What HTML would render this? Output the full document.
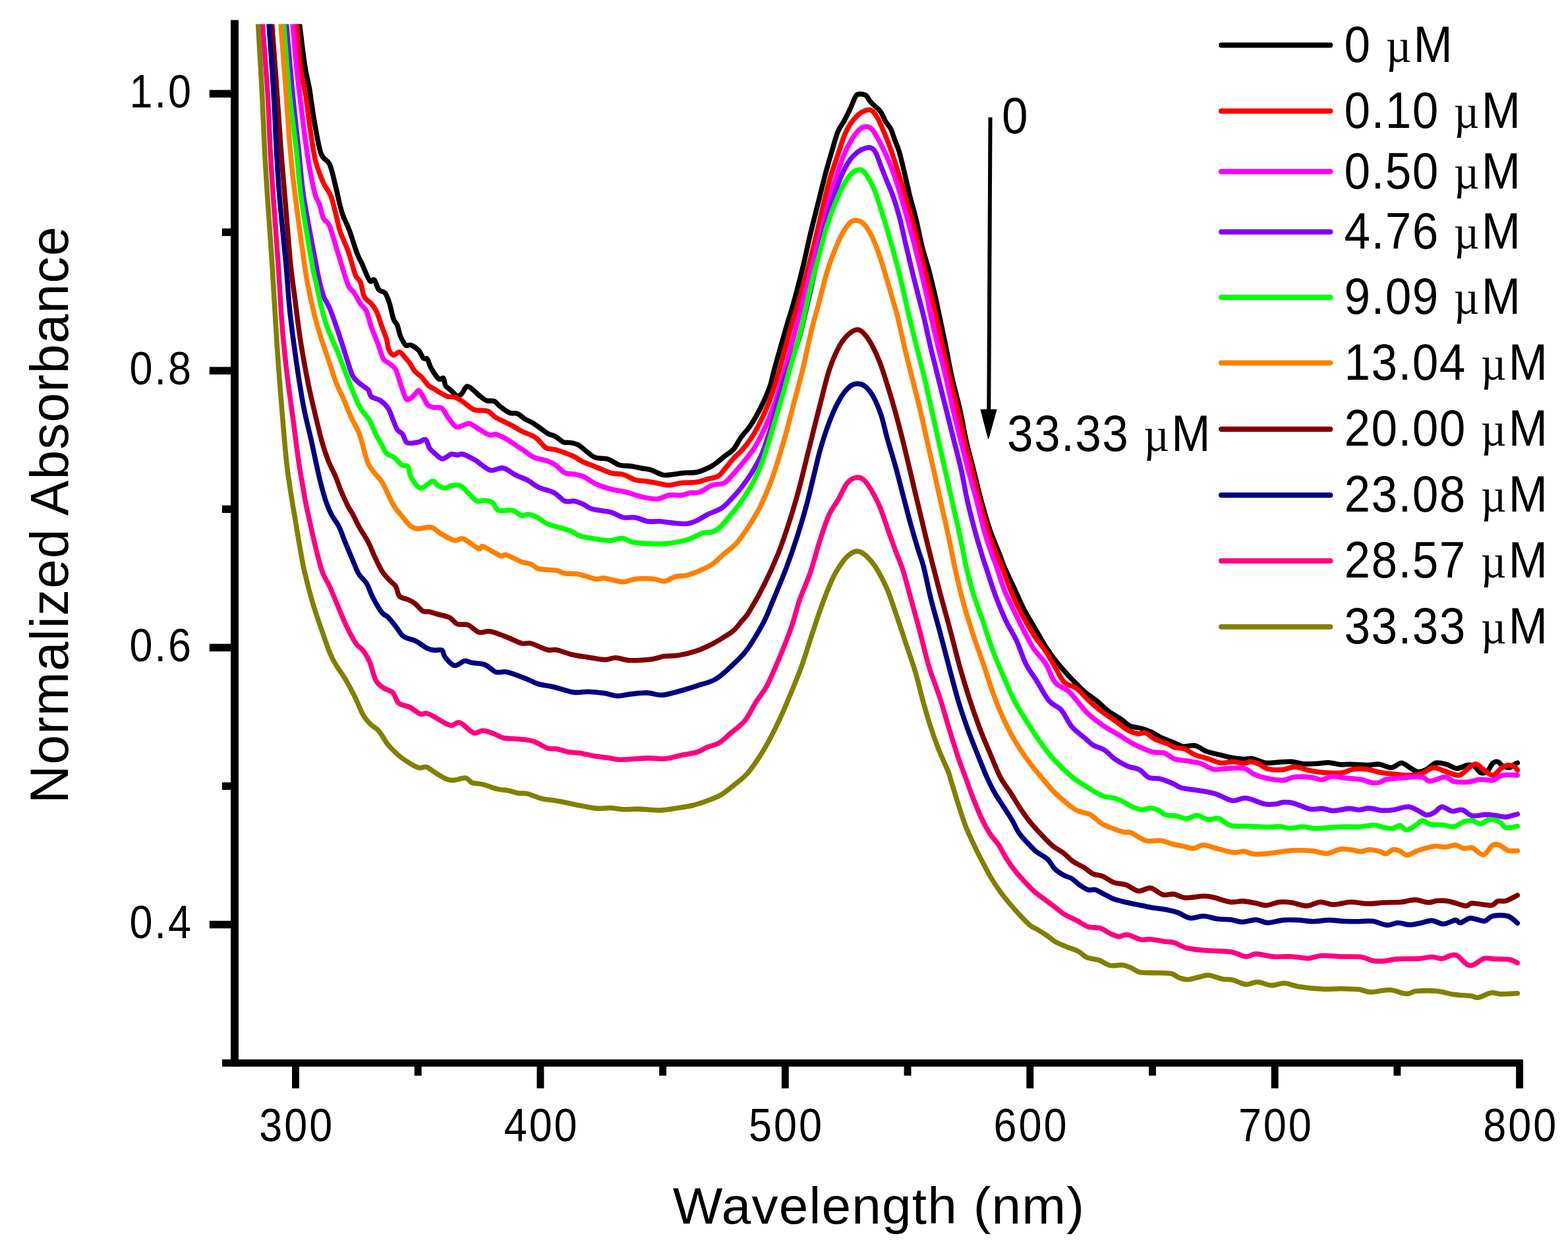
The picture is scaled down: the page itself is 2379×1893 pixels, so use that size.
<!DOCTYPE html>
<html lang="en"><head><meta charset="utf-8"><title>Normalized Absorbance vs Wavelength</title>
<style>html,body{margin:0;padding:0;background:#fff}body{width:2379px;height:1893px;overflow:hidden}svg{display:block}text{font-family:"Liberation Sans",Arial,Helvetica,sans-serif;fill:#000}.mu{font-family:"Liberation Serif","DejaVu Serif",serif}.c{fill:none;stroke-linejoin:round;stroke-linecap:round}</style></head><body>
<svg width="2379" height="1893" viewBox="0 0 2379 1893">
<rect width="2379" height="1893" fill="#fff"/>
<clipPath id="plot"><rect x="361" y="36.5" width="1960" height="1571"/></clipPath>
<g clip-path="url(#plot)">
<path class="c" stroke="#000000" stroke-width="7.60" d="M452.3 20.0C452.7 22.8 452.8 23.7 454.5 37.0C456.2 50.3 460.1 83.7 462.6 100.0C465.1 116.3 467.3 121.4 469.6 135.0C471.9 148.6 473.6 165.2 476.5 181.5C479.4 197.8 483.1 221.6 487.0 232.8C490.9 244.1 496.3 240.8 500.0 249.0C503.7 257.1 505.9 269.6 509.0 281.7C512.1 293.8 515.0 310.1 518.5 321.4C522.0 332.7 526.1 338.8 530.0 349.3C533.9 359.8 538.6 375.9 541.8 384.3C545.0 392.8 546.0 393.1 549.2 400.0C552.4 406.9 557.7 421.5 560.8 425.6C563.9 429.7 565.5 422.2 567.8 424.5C570.1 426.8 572.1 436.3 574.8 439.6C577.5 442.9 581.4 440.8 584.1 444.3C586.8 447.8 589.0 454.0 591.1 460.6C593.2 467.2 595.0 478.5 597.0 483.9C599.0 489.3 601.0 488.9 602.8 493.2C604.5 497.5 605.4 504.6 607.5 509.6C609.6 514.6 612.9 521.2 615.6 523.5C618.3 525.8 620.5 522.1 623.8 523.5C627.1 524.9 632.3 528.4 635.4 531.7C638.5 535.0 640.2 541.3 642.4 543.4C644.5 545.5 646.3 542.0 648.3 544.5C650.2 547.0 651.2 553.5 654.1 558.5C657.0 563.5 662.6 572.3 665.7 574.8C668.8 577.3 671.0 572.0 672.7 573.7C674.5 575.5 674.2 582.2 676.2 585.3C678.2 588.4 681.5 589.8 684.4 592.3C687.3 594.8 691.0 599.7 693.7 600.5C696.4 601.3 698.4 599.3 700.7 597.0C703.0 594.7 705.4 587.9 707.7 586.5C710.0 585.1 711.6 586.7 714.7 588.8C717.8 590.9 722.4 596.2 726.3 599.3C730.2 602.4 734.1 606.0 738.0 607.5C741.9 609.0 746.2 607.1 749.7 608.6C753.2 610.1 755.1 613.9 759.0 616.8C762.9 619.7 768.7 624.4 773.0 626.1C777.3 627.9 780.7 625.8 784.6 627.3C788.5 628.8 792.4 633.1 796.3 635.4C800.2 637.7 804.0 639.0 807.9 641.3C811.8 643.6 815.7 646.7 819.6 649.4C823.5 652.1 827.3 655.5 831.2 657.6C835.1 659.7 839.0 660.1 842.9 662.2C846.8 664.3 850.6 668.8 854.5 670.4C858.4 672.0 862.3 670.8 866.2 671.6C870.1 672.4 874.0 673.0 877.9 675.1C881.8 677.2 885.3 681.2 889.5 684.4C893.7 687.5 897.9 692.0 903.3 694.0C908.7 696.0 915.8 694.4 922.0 696.4C928.2 698.4 934.8 704.0 940.6 705.7C946.4 707.5 951.5 706.1 956.9 706.9C962.3 707.7 968.2 709.3 973.2 710.3C978.2 711.3 981.8 711.0 987.2 712.7C992.7 714.4 1000.5 719.2 1005.9 720.4C1011.3 721.6 1014.5 720.2 1019.9 719.7C1025.3 719.2 1032.3 717.9 1038.5 717.3C1044.7 716.7 1050.6 717.8 1057.2 716.2C1063.8 714.7 1072.7 710.7 1078.1 708.0C1083.5 705.3 1085.9 702.8 1089.8 699.9C1093.7 697.0 1097.5 693.6 1101.4 690.5C1105.3 687.4 1109.2 685.9 1113.1 681.2C1117.0 676.6 1120.9 668.0 1124.8 662.6C1128.7 657.2 1132.5 654.1 1136.4 648.6C1140.3 643.1 1144.2 636.9 1148.1 629.9C1152.0 622.9 1156.2 614.4 1159.7 606.6C1163.2 598.8 1166.5 591.1 1169.0 583.3C1171.5 575.5 1171.1 573.9 1174.9 560.0C1178.7 546.1 1187.1 516.5 1191.9 500.0C1196.7 483.6 1199.2 476.7 1203.5 461.3C1207.8 445.9 1213.2 425.2 1217.5 407.7C1221.8 390.2 1225.3 372.7 1229.2 356.4C1233.1 340.1 1236.9 325.3 1240.8 309.8C1244.7 294.3 1249.0 276.4 1252.5 263.2C1256.0 250.0 1258.7 241.0 1261.8 230.5C1264.9 220.0 1268.0 208.0 1271.1 200.2C1274.2 192.4 1277.4 189.7 1280.5 183.9C1283.6 178.1 1287.1 171.1 1289.8 165.3C1292.5 159.5 1294.9 152.7 1296.8 149.0C1298.7 145.3 1298.7 143.9 1301.4 143.1C1304.1 142.3 1310.0 142.6 1313.1 144.3C1316.2 146.1 1317.8 150.9 1320.1 153.6C1322.4 156.3 1324.4 157.9 1327.1 160.6C1329.8 163.3 1333.7 166.0 1336.4 169.9C1339.1 173.8 1340.9 179.6 1343.4 183.9C1345.9 188.2 1349.3 190.9 1351.6 195.6C1353.9 200.3 1355.3 206.1 1357.4 211.9C1359.5 217.7 1362.1 222.7 1364.4 230.5C1366.7 238.3 1368.7 247.2 1371.4 258.5C1374.1 269.8 1377.6 285.7 1380.7 298.1C1383.8 310.5 1386.9 320.3 1390.0 333.1C1393.1 345.9 1396.2 362.7 1399.3 375.1C1402.4 387.5 1405.6 396.1 1408.7 407.7C1411.8 419.3 1415.2 432.9 1418.0 445.0C1420.8 457.1 1422.6 466.4 1425.5 480.0C1428.4 493.6 1432.0 511.1 1435.2 526.6C1438.4 542.1 1441.0 557.7 1444.5 573.2C1448.0 588.8 1452.7 604.4 1456.2 619.9C1459.7 635.4 1462.0 651.0 1465.5 666.5C1469.0 682.0 1473.3 697.6 1477.2 713.1C1481.1 728.6 1484.5 744.2 1488.8 759.7C1493.1 775.2 1498.1 792.7 1502.8 806.3C1507.5 819.9 1513.3 832.3 1516.8 841.3C1520.3 850.2 1519.9 851.0 1523.8 860.0C1527.7 869.0 1535.0 884.1 1540.1 895.0C1545.1 905.9 1549.0 915.6 1554.1 925.3C1559.1 935.0 1565.0 943.9 1570.4 953.2C1575.8 962.5 1580.9 972.2 1586.7 981.2C1592.5 990.2 1598.8 998.7 1605.4 1006.9C1612.0 1015.1 1619.7 1023.2 1626.3 1030.2C1632.9 1037.2 1638.8 1043.4 1645.0 1048.8C1651.2 1054.2 1657.4 1057.8 1663.6 1062.8C1669.8 1067.8 1676.1 1074.4 1682.3 1079.1C1688.5 1083.8 1695.5 1087.1 1700.9 1090.8C1706.3 1094.5 1709.9 1099.0 1714.9 1101.3C1720.0 1103.6 1725.8 1103.2 1731.2 1104.8C1736.7 1106.3 1742.5 1108.3 1747.6 1110.6C1752.6 1112.9 1756.1 1116.2 1761.5 1118.7C1766.9 1121.2 1774.3 1123.6 1780.0 1125.9C1785.7 1128.2 1789.9 1131.5 1795.4 1132.3C1801.0 1133.1 1807.3 1129.7 1813.3 1131.0C1819.3 1132.3 1824.9 1137.7 1831.3 1140.0C1837.7 1142.3 1845.4 1143.5 1851.8 1145.1C1858.2 1146.7 1863.7 1148.4 1869.7 1149.5C1875.7 1150.6 1882.6 1151.3 1887.7 1151.5C1892.8 1151.7 1895.0 1149.8 1900.5 1150.8C1906.0 1151.8 1914.6 1156.3 1921.0 1157.2C1927.4 1158.1 1932.6 1156.5 1939.0 1156.2C1945.4 1155.9 1953.1 1155.0 1959.5 1155.4C1965.9 1155.8 1971.0 1158.2 1977.4 1158.7C1983.8 1159.2 1991.5 1158.5 1997.9 1158.2C2004.3 1157.9 2009.9 1156.5 2015.9 1156.7C2021.9 1157.0 2028.2 1159.3 2033.8 1159.7C2039.3 1160.1 2042.3 1159.1 2049.2 1159.2C2056.0 1159.3 2067.6 1160.5 2074.9 1160.5C2082.2 1160.5 2086.8 1158.5 2092.8 1159.2C2098.8 1159.9 2105.2 1164.7 2110.8 1164.4C2116.4 1164.1 2121.5 1157.2 2126.2 1157.2C2130.9 1157.2 2134.7 1162.1 2139.0 1164.4C2143.3 1166.7 2147.5 1170.4 2151.8 1170.8C2156.1 1171.2 2160.1 1169.2 2164.6 1166.9C2169.1 1164.6 2173.6 1158.4 2178.7 1157.2C2183.8 1156.0 2190.1 1158.3 2195.4 1159.7C2200.8 1161.1 2205.7 1165.5 2210.8 1165.6C2215.9 1165.7 2221.9 1161.1 2226.2 1160.5C2230.5 1159.9 2233.0 1159.9 2236.4 1161.8C2239.8 1163.7 2243.3 1170.8 2246.7 1172.1C2250.1 1173.4 2253.9 1171.9 2256.9 1169.5C2259.9 1167.1 2262.0 1160.2 2264.6 1157.9C2267.2 1155.6 2269.7 1154.8 2272.3 1155.4C2274.9 1156.1 2277.0 1160.3 2280.0 1161.8C2283.0 1163.3 2287.3 1164.8 2290.3 1164.4C2293.3 1164.0 2295.9 1160.4 2297.9 1159.2C2299.9 1158.0 2301.6 1157.5 2302.3 1157.2"/>
<path class="c" stroke="#ff0000" stroke-width="7.60" d="M448.9 20.0C449.1 22.8 449.2 23.7 450.3 37.0C451.4 50.3 453.3 81.7 455.6 100.0C457.9 118.3 461.3 129.1 464.0 146.6C466.7 164.1 469.4 188.5 471.9 204.8C474.4 221.1 475.8 232.5 478.9 244.5C482.0 256.5 486.6 268.1 490.5 277.0C494.4 285.9 498.7 288.7 502.2 298.0C505.7 307.3 509.2 324.1 511.5 333.0C513.8 341.9 513.5 343.9 516.2 351.7C518.9 359.5 524.8 371.6 527.8 379.7C530.8 387.8 532.0 393.5 534.0 400.0C536.0 406.5 537.8 413.9 539.9 418.6C542.0 423.3 544.8 422.8 546.9 428.0C549.0 433.2 550.0 444.7 552.7 450.1C555.4 455.5 560.1 456.9 563.2 460.6C566.3 464.3 568.6 466.5 571.3 472.3C574.0 478.1 577.0 488.6 579.5 495.6C582.0 502.6 584.8 508.4 586.5 514.2C588.2 520.0 588.2 526.4 590.0 530.5C591.8 534.6 594.3 538.1 597.0 538.7C599.7 539.3 603.4 533.4 606.3 534.0C609.2 534.6 612.0 539.5 614.5 542.2C617.0 544.9 618.9 546.8 621.4 550.3C623.9 553.8 626.5 559.5 629.6 563.2C632.7 566.9 636.8 569.0 640.1 572.5C643.4 576.0 646.3 581.2 649.4 584.1C652.5 587.0 655.2 587.9 658.7 590.0C662.2 592.1 666.9 595.1 670.4 597.0C673.9 598.9 676.2 600.6 679.7 601.6C683.2 602.6 687.5 601.4 691.4 602.8C695.3 604.2 698.7 606.9 703.0 609.8C707.3 612.7 713.1 618.2 717.0 620.3C720.9 622.4 722.4 622.0 726.3 622.6C730.2 623.2 736.0 622.0 740.3 623.8C744.6 625.5 747.7 630.4 752.0 633.1C756.3 635.8 761.7 638.0 766.0 640.1C770.3 642.2 773.3 643.6 777.6 645.9C781.9 648.2 786.2 651.4 791.6 654.1C797.0 656.8 805.6 659.5 810.3 662.2C815.0 664.9 816.5 667.5 819.6 670.4C822.7 673.3 825.0 677.8 828.9 679.7C832.8 681.7 838.2 680.9 842.9 682.1C847.6 683.3 852.2 685.0 856.9 686.7C861.6 688.4 866.2 690.2 870.9 692.5C875.5 694.8 879.4 698.1 884.8 700.7C890.2 703.3 896.3 705.2 903.3 708.0C910.3 710.8 919.6 715.3 926.6 717.3C933.6 719.2 939.1 718.0 945.3 719.7C951.5 721.5 957.7 726.0 963.9 727.8C970.1 729.5 976.4 729.2 982.6 730.2C988.8 731.2 995.8 732.7 1001.2 733.7C1006.6 734.7 1009.8 736.2 1015.2 736.0C1020.6 735.8 1026.8 733.3 1033.8 732.5C1040.8 731.7 1050.6 732.3 1057.2 731.3C1063.8 730.3 1068.1 728.2 1073.5 726.7C1078.9 725.2 1085.1 724.9 1089.8 722.0C1094.5 719.1 1097.5 713.7 1101.4 709.2C1105.3 704.7 1108.8 699.9 1113.1 695.2C1117.4 690.5 1122.4 686.6 1127.1 681.2C1131.8 675.8 1136.8 669.2 1141.1 662.6C1145.4 656.0 1148.8 649.4 1152.7 641.6C1156.6 633.8 1160.9 624.5 1164.4 616.0C1167.9 607.5 1170.6 599.6 1173.7 590.3C1176.8 581.0 1178.8 575.0 1183.0 560.0C1187.2 545.0 1194.3 516.5 1198.9 500.0C1203.5 483.6 1205.8 477.5 1210.5 461.3C1215.2 445.1 1222.2 420.5 1226.9 403.0C1231.6 385.5 1235.0 370.8 1238.5 356.4C1242.0 342.0 1244.3 331.2 1247.8 316.8C1251.3 302.4 1255.6 283.8 1259.5 270.2C1263.4 256.6 1267.6 245.7 1271.1 235.2C1274.6 224.7 1277.4 215.0 1280.5 207.2C1283.6 199.4 1286.3 194.0 1289.8 188.6C1293.3 183.2 1297.5 178.1 1301.4 174.6C1305.3 171.1 1309.6 168.8 1313.1 167.6C1316.6 166.4 1319.3 165.6 1322.4 167.6C1325.5 169.6 1328.6 173.9 1331.7 179.3C1334.8 184.7 1338.0 192.8 1341.1 200.2C1344.2 207.6 1347.3 214.9 1350.4 223.5C1353.5 232.1 1356.6 241.8 1359.7 251.5C1362.8 261.2 1365.9 271.3 1369.0 281.8C1372.1 292.3 1375.3 303.6 1378.4 314.5C1381.5 325.4 1384.6 335.5 1387.7 347.1C1390.8 358.8 1393.9 372.0 1397.0 384.4C1400.1 396.8 1403.2 409.3 1406.3 421.7C1409.4 434.1 1413.3 449.3 1415.7 459.0C1418.1 468.7 1418.0 468.7 1420.5 480.0C1423.0 491.3 1427.1 511.1 1430.5 526.6C1433.9 542.1 1437.3 557.7 1441.0 573.2C1444.7 588.8 1449.0 604.4 1452.7 619.9C1456.4 635.4 1459.5 651.0 1463.2 666.5C1466.9 682.0 1470.9 697.6 1474.8 713.1C1478.7 728.6 1482.4 744.2 1486.5 759.7C1490.6 775.2 1495.0 792.7 1499.3 806.3C1503.6 819.9 1508.6 832.3 1512.1 841.3C1515.6 850.2 1516.8 851.0 1520.3 860.0C1523.8 869.0 1528.2 883.4 1533.1 895.0C1537.9 906.6 1543.6 918.6 1549.4 929.9C1555.2 941.2 1561.9 952.9 1568.1 962.6C1574.3 972.3 1581.3 980.1 1586.7 988.2C1592.1 996.4 1596.0 1003.7 1600.7 1011.5C1605.4 1019.3 1609.3 1029.4 1614.7 1034.8C1620.1 1040.2 1627.5 1039.8 1633.3 1044.1C1639.1 1048.4 1643.9 1055.0 1649.7 1060.5C1655.5 1066.0 1661.3 1071.4 1668.3 1076.8C1675.3 1082.2 1684.6 1088.0 1691.6 1093.1C1698.6 1098.1 1704.5 1103.8 1710.3 1107.1C1716.1 1110.4 1721.9 1112.1 1726.6 1112.9C1731.2 1113.7 1733.9 1110.3 1738.2 1111.7C1742.5 1113.1 1746.8 1118.4 1752.2 1121.1C1757.7 1123.8 1765.9 1126.0 1770.9 1128.1C1776.0 1130.2 1778.0 1132.6 1782.5 1133.9C1787.0 1135.2 1792.8 1134.3 1797.9 1136.2C1803.0 1138.1 1807.7 1142.8 1813.3 1145.1C1818.9 1147.4 1824.9 1148.3 1831.3 1150.3C1837.7 1152.3 1845.4 1156.3 1851.8 1157.2C1858.2 1158.1 1863.7 1155.3 1869.7 1155.4C1875.7 1155.5 1883.0 1157.9 1887.7 1157.9C1892.4 1157.9 1894.1 1155.2 1897.9 1155.4C1901.8 1155.6 1906.5 1157.4 1910.8 1159.2C1915.1 1161.0 1917.6 1165.0 1923.6 1166.4C1929.6 1167.8 1939.9 1168.0 1946.7 1167.4C1953.5 1166.9 1958.2 1163.0 1964.6 1163.1C1971.0 1163.2 1978.3 1166.8 1985.1 1168.2C1991.9 1169.6 1997.0 1170.8 2005.6 1171.5C2014.1 1172.2 2028.7 1172.9 2036.4 1172.1C2044.1 1171.3 2045.4 1167.8 2051.8 1166.9C2058.2 1166.0 2068.1 1166.1 2074.9 1166.9C2081.7 1167.7 2085.5 1170.2 2092.8 1171.5C2100.1 1172.8 2110.8 1173.9 2118.5 1174.6C2126.2 1175.3 2132.6 1176.1 2139.0 1175.9C2145.4 1175.7 2150.9 1175.2 2156.9 1173.3C2162.9 1171.4 2168.9 1165.0 2174.9 1164.4C2180.9 1163.9 2186.4 1168.1 2192.8 1170.0C2199.2 1171.9 2207.7 1176.4 2213.3 1175.9C2218.9 1175.4 2221.9 1169.8 2226.2 1166.9C2230.5 1164.0 2234.7 1158.5 2239.0 1158.7C2243.3 1158.9 2247.5 1165.3 2251.8 1168.2C2256.1 1171.1 2260.3 1176.3 2264.6 1175.9C2268.9 1175.5 2273.6 1168.2 2277.4 1165.6C2281.2 1163.0 2284.3 1160.9 2287.7 1160.5C2291.1 1160.1 2295.5 1161.8 2297.9 1163.1C2300.3 1164.4 2301.6 1167.3 2302.3 1168.2"/>
<path class="c" stroke="#ff00ff" stroke-width="7.60" d="M442.7 20.0C443.0 22.8 443.0 23.7 444.2 37.0C445.4 50.3 447.4 77.8 449.7 100.0C452.0 122.2 455.0 146.6 457.9 169.9C460.8 193.2 463.9 219.2 467.2 239.8C470.5 260.4 474.8 281.8 477.7 293.4C480.6 305.0 482.6 303.5 484.7 309.7C486.8 315.9 488.0 325.2 490.5 330.7C493.0 336.1 496.4 334.2 499.9 342.4C503.4 350.6 508.5 370.1 511.5 379.7C514.5 389.3 515.7 393.5 517.7 400.0C519.7 406.5 521.5 412.8 523.5 418.6C525.5 424.4 527.1 430.7 529.4 435.0C531.7 439.3 534.6 440.0 537.5 444.3C540.4 448.6 543.8 455.9 546.9 460.6C550.0 465.3 553.5 466.5 556.2 472.3C558.9 478.1 560.5 487.8 563.2 495.6C565.9 503.4 569.4 510.8 572.5 518.9C575.6 527.0 578.7 539.1 581.8 544.5C584.9 549.9 588.0 548.8 591.1 551.5C594.2 554.2 597.8 555.8 600.5 560.8C603.2 565.8 605.0 574.6 607.5 581.8C610.0 589.0 613.3 600.1 615.6 604.0C617.9 607.9 619.1 606.1 621.4 605.1C623.7 604.1 627.3 600.2 629.6 598.1C631.9 596.0 633.3 591.5 635.4 592.3C637.5 593.1 640.1 599.1 642.4 602.8C644.7 606.5 646.7 612.0 649.4 614.5C652.1 617.0 655.2 617.2 658.7 618.0C662.2 618.8 666.9 616.6 670.4 619.1C673.9 621.6 676.2 628.4 679.7 633.1C683.2 637.8 687.9 645.0 691.4 647.1C694.9 649.2 697.2 646.7 700.7 645.9C704.2 645.1 708.1 641.6 712.4 642.4C716.7 643.2 721.2 647.7 726.3 650.6C731.3 653.5 738.4 658.5 742.7 659.9C747.0 661.2 748.1 657.9 752.0 658.7C755.9 659.5 761.0 661.9 766.0 664.6C771.0 667.3 777.2 671.8 782.3 675.1C787.3 678.4 791.6 681.3 796.3 684.4C801.0 687.5 804.5 691.2 810.3 693.7C816.1 696.2 825.8 697.5 831.2 699.5C836.6 701.5 838.6 702.5 842.9 705.4C847.2 708.3 852.2 714.7 856.9 717.0C861.6 719.3 866.2 718.4 870.9 719.3C875.5 720.2 879.4 720.1 884.8 722.5C890.2 724.9 896.3 730.5 903.3 733.7C910.3 736.9 918.8 739.7 926.6 741.8C934.4 743.9 942.1 744.5 949.9 746.5C957.7 748.5 965.4 751.8 973.2 753.5C981.0 755.2 989.6 757.4 996.6 757.0C1003.6 756.6 1009.0 752.1 1015.2 751.1C1021.4 750.1 1028.4 751.7 1033.8 751.1C1039.2 750.5 1043.1 748.4 1047.8 747.6C1052.5 746.8 1056.3 748.4 1061.8 746.5C1067.2 744.6 1074.3 738.3 1080.5 736.0C1086.7 733.7 1093.7 735.4 1099.1 732.5C1104.5 729.6 1108.4 723.5 1113.1 718.5C1117.8 713.5 1122.0 708.4 1127.1 702.2C1132.1 696.0 1138.7 688.2 1143.4 681.2C1148.1 674.2 1151.2 668.0 1155.1 660.2C1159.0 652.4 1163.0 643.5 1166.7 634.6C1170.4 625.7 1174.1 615.9 1177.2 606.6C1180.3 597.3 1183.1 586.4 1185.4 578.6C1187.7 570.8 1187.6 573.1 1191.2 560.0C1194.8 546.9 1202.2 518.4 1207.0 500.0C1211.8 481.6 1215.4 467.0 1219.9 449.7C1224.4 432.4 1229.5 412.3 1233.8 396.0C1238.1 379.7 1241.6 366.4 1245.5 351.7C1249.4 336.9 1253.3 321.5 1257.2 307.5C1261.1 293.5 1264.9 279.9 1268.8 267.8C1272.7 255.8 1276.6 244.5 1280.5 235.2C1284.4 225.9 1288.2 218.3 1292.1 211.9C1296.0 205.5 1300.3 200.0 1303.8 196.7C1307.3 193.4 1310.0 192.3 1313.1 192.1C1316.2 191.9 1319.3 192.7 1322.4 195.6C1325.5 198.5 1328.6 204.2 1331.7 209.6C1334.8 215.0 1338.0 221.6 1341.1 228.2C1344.2 234.8 1347.3 241.4 1350.4 249.2C1353.5 257.0 1356.6 265.5 1359.7 274.8C1362.8 284.1 1365.9 294.6 1369.0 305.1C1372.1 315.6 1375.3 326.5 1378.4 337.8C1381.5 349.1 1384.6 360.7 1387.7 372.7C1390.8 384.7 1393.9 397.2 1397.0 410.0C1400.1 422.8 1403.7 438.0 1406.3 449.7C1408.9 461.4 1409.6 467.2 1412.5 480.0C1415.4 492.8 1419.7 511.1 1423.5 526.6C1427.3 542.1 1431.5 557.7 1435.2 573.2C1438.9 588.8 1442.0 604.4 1445.7 619.9C1449.4 635.4 1453.4 651.0 1457.3 666.5C1461.2 682.0 1464.9 697.6 1469.0 713.1C1473.1 728.6 1477.7 744.2 1481.8 759.7C1485.9 775.2 1489.6 792.7 1493.5 806.3C1497.4 819.9 1502.0 832.3 1505.1 841.3C1508.2 850.2 1509.0 851.0 1512.1 860.0C1515.2 869.0 1519.1 883.4 1523.8 895.0C1528.5 906.6 1535.0 919.4 1540.1 929.9C1545.1 940.4 1549.4 949.0 1554.1 957.9C1558.8 966.8 1562.7 975.3 1568.1 983.5C1573.5 991.7 1581.3 998.4 1586.7 1006.9C1592.1 1015.4 1594.9 1027.8 1600.7 1034.8C1606.5 1041.8 1615.9 1043.8 1621.7 1048.8C1627.5 1053.8 1631.0 1059.7 1635.7 1065.1C1640.4 1070.5 1643.5 1075.6 1649.7 1081.4C1655.9 1087.2 1665.2 1094.6 1673.0 1100.1C1680.8 1105.5 1689.3 1109.8 1696.3 1114.1C1703.3 1118.4 1709.1 1122.4 1714.9 1125.7C1720.7 1129.0 1725.4 1131.4 1731.2 1133.9C1737.0 1136.4 1744.1 1139.5 1749.9 1140.9C1755.7 1142.3 1760.8 1140.3 1766.2 1142.1C1771.6 1143.8 1776.8 1149.4 1782.5 1151.4C1788.2 1153.4 1794.1 1153.0 1800.5 1154.1C1806.9 1155.2 1814.2 1155.8 1821.0 1157.9C1827.8 1160.0 1834.7 1165.6 1841.5 1166.9C1848.3 1168.2 1854.4 1165.8 1862.1 1165.6C1869.8 1165.4 1880.9 1164.1 1887.7 1165.6C1894.5 1167.1 1897.5 1172.1 1903.1 1174.6C1908.6 1177.0 1913.7 1178.8 1921.0 1180.3C1928.3 1181.8 1939.4 1183.9 1946.7 1183.6C1954.0 1183.3 1957.3 1179.2 1964.6 1178.5C1971.9 1177.8 1983.5 1178.5 1990.3 1179.2C1997.1 1179.9 2000.5 1183.0 2005.6 1182.8C2010.7 1182.5 2015.0 1178.1 2021.0 1177.7C2027.0 1177.3 2034.2 1179.5 2041.5 1180.3C2048.8 1181.1 2058.2 1181.2 2064.6 1182.3C2071.0 1183.4 2075.3 1186.1 2080.0 1186.9C2084.7 1187.7 2089.0 1187.7 2092.8 1186.9C2096.7 1186.1 2097.1 1183.5 2103.1 1182.3C2109.1 1181.1 2119.7 1180.3 2128.7 1179.7C2137.7 1179.1 2150.1 1177.6 2156.9 1178.5C2163.7 1179.4 2163.7 1184.9 2169.7 1184.9C2175.7 1184.9 2186.8 1178.4 2192.8 1178.5C2198.8 1178.6 2200.0 1184.1 2205.6 1185.4C2211.2 1186.7 2219.3 1186.7 2226.2 1186.2C2233.0 1185.7 2240.3 1182.7 2246.7 1182.3C2253.1 1181.9 2259.0 1184.7 2264.6 1183.6C2270.2 1182.5 2273.7 1177.2 2280.0 1175.9C2286.3 1174.6 2298.6 1175.9 2302.3 1175.9"/>
<path class="c" stroke="#8000ff" stroke-width="7.60" d="M433.0 20.0C433.2 22.8 432.7 17.0 434.5 37.0C436.3 57.0 440.7 108.2 443.8 140.0C446.9 171.8 450.3 201.3 453.2 228.0C456.1 254.7 456.6 271.3 461.0 300.0C465.4 328.7 475.5 379.4 479.3 400.0C483.1 420.6 482.0 415.1 483.9 423.3C485.8 431.5 488.2 441.6 490.9 449.0C493.6 456.4 497.1 460.2 500.2 467.6C503.3 475.0 506.5 484.3 509.6 493.2C512.7 502.1 516.0 512.2 518.9 521.2C521.8 530.2 524.3 538.7 527.0 546.9C529.7 555.1 532.3 564.6 535.2 570.2C538.1 575.8 540.6 577.2 544.5 580.7C548.4 584.2 555.4 587.6 558.5 591.1C561.6 594.6 560.1 598.9 563.2 601.6C566.3 604.3 572.9 604.6 577.2 607.5C581.5 610.4 585.7 614.5 588.8 619.1C591.9 623.8 593.5 630.0 595.8 635.4C598.1 640.8 600.3 647.8 602.8 651.7C605.3 655.6 608.5 655.4 611.0 658.7C613.5 662.0 613.9 669.7 618.0 671.6C622.1 673.5 630.8 671.2 635.4 670.4C640.0 669.6 643.2 665.3 645.9 666.9C648.6 668.5 649.2 676.0 651.7 679.7C654.2 683.4 657.8 686.3 661.1 689.0C664.4 691.7 667.7 696.0 671.6 696.0C675.5 696.0 680.7 690.0 684.4 689.0C688.1 688.0 690.6 690.2 693.7 690.2C696.8 690.2 698.3 687.6 703.0 689.0C707.7 690.4 717.0 695.7 721.7 698.4C726.4 701.1 727.1 702.9 731.0 705.4C734.9 707.9 739.6 712.7 745.0 713.5C750.4 714.3 757.4 708.8 763.6 710.0C769.8 711.2 776.1 717.4 782.3 720.5C788.5 723.6 795.1 725.6 800.9 728.7C806.7 731.8 810.6 736.1 817.2 739.2C823.8 742.3 834.0 743.8 840.6 747.3C847.2 750.8 851.9 758.0 856.9 760.1C861.9 762.2 866.2 759.3 870.9 760.1C875.5 760.9 880.2 762.8 884.8 764.8C889.4 766.8 891.6 770.1 898.6 772.1C905.6 774.1 918.8 774.7 926.6 776.8C934.4 778.9 939.1 783.5 945.3 784.9C951.5 786.2 957.7 783.9 963.9 784.9C970.1 785.9 976.4 789.8 982.6 790.8C988.8 791.8 995.0 790.4 1001.2 790.8C1007.4 791.2 1012.9 792.5 1019.9 793.1C1026.9 793.7 1037.0 794.9 1043.2 794.3C1049.4 793.7 1052.2 791.9 1057.2 789.6C1062.2 787.3 1067.3 783.4 1073.5 780.3C1079.7 777.2 1088.7 774.7 1094.5 771.0C1100.3 767.3 1103.4 763.4 1108.4 758.1C1113.5 752.9 1119.3 746.5 1124.8 739.5C1130.2 732.5 1136.0 724.4 1141.1 716.2C1146.1 708.0 1150.8 700.2 1155.1 690.5C1159.4 680.8 1163.2 668.8 1166.7 657.9C1170.2 647.0 1172.9 636.6 1176.0 625.3C1179.1 614.0 1182.2 601.2 1185.4 590.3C1188.7 579.4 1191.3 571.7 1195.5 560.0C1199.7 548.3 1206.8 530.3 1210.3 520.0C1213.8 509.7 1213.1 511.7 1216.5 498.0C1219.9 484.3 1226.0 457.7 1230.5 438.0C1235.0 418.3 1239.2 397.2 1243.2 379.7C1247.2 362.2 1250.9 347.5 1254.8 333.1C1258.7 318.7 1262.6 305.1 1266.5 293.5C1270.4 281.9 1274.2 271.8 1278.1 263.2C1282.0 254.6 1285.9 247.6 1289.8 242.2C1293.7 236.8 1297.5 233.4 1301.4 230.5C1305.3 227.6 1309.6 225.7 1313.1 224.7C1316.6 223.7 1319.7 223.3 1322.4 224.7C1325.1 226.1 1327.1 228.4 1329.4 232.9C1331.7 237.4 1333.7 244.5 1336.4 251.5C1339.1 258.5 1342.6 267.0 1345.7 274.8C1348.8 282.6 1352.0 289.2 1355.1 298.1C1358.2 307.0 1361.3 316.7 1364.4 328.4C1367.5 340.1 1370.6 354.9 1373.7 368.1C1376.8 381.3 1379.9 394.9 1383.0 407.7C1386.1 420.5 1389.3 432.9 1392.4 445.0C1395.5 457.1 1398.2 466.4 1401.4 480.0C1404.7 493.6 1408.2 511.1 1411.9 526.6C1415.6 542.1 1419.6 557.7 1423.5 573.2C1427.4 588.8 1431.3 604.4 1435.2 619.9C1439.1 635.4 1443.0 651.0 1446.9 666.5C1450.8 682.0 1455.0 697.6 1458.5 713.1C1462.0 728.6 1464.3 744.2 1467.8 759.7C1471.3 775.2 1475.6 791.9 1479.5 806.3C1483.4 820.7 1488.4 837.0 1491.1 846.0C1493.8 855.0 1492.7 850.7 1495.8 860.0C1498.9 869.3 1504.8 888.4 1509.8 902.0C1514.8 915.6 1520.7 930.0 1526.1 941.6C1531.5 953.2 1537.4 961.0 1542.4 971.9C1547.5 982.8 1551.4 996.8 1556.4 1006.9C1561.5 1017.0 1566.9 1023.2 1572.7 1032.5C1578.5 1041.8 1585.2 1055.4 1591.4 1062.8C1597.6 1070.2 1604.2 1070.2 1610.0 1076.8C1615.8 1083.4 1620.5 1095.4 1626.3 1102.4C1632.1 1109.4 1639.5 1114.0 1645.0 1118.7C1650.5 1123.4 1654.0 1127.3 1659.0 1130.4C1664.0 1133.5 1669.9 1133.9 1675.3 1137.4C1680.7 1140.9 1685.8 1147.3 1691.6 1151.4C1697.4 1155.5 1704.1 1159.2 1710.3 1161.9C1716.5 1164.6 1723.5 1164.8 1728.9 1167.7C1734.3 1170.6 1737.5 1177.0 1742.9 1179.3C1748.3 1181.6 1755.3 1180.1 1761.5 1181.7C1767.7 1183.3 1774.8 1186.5 1780.0 1188.7C1785.2 1190.9 1786.4 1193.4 1792.8 1195.1C1799.2 1196.8 1810.0 1197.5 1818.5 1199.0C1827.0 1200.5 1835.6 1201.5 1844.1 1204.1C1852.6 1206.7 1862.0 1213.3 1869.7 1214.4C1877.4 1215.5 1882.2 1209.7 1890.3 1210.5C1898.4 1211.3 1910.8 1218.0 1918.5 1219.5C1926.2 1221.0 1931.7 1219.9 1936.4 1219.5C1941.1 1219.1 1942.4 1217.1 1946.7 1216.9C1951.0 1216.7 1955.3 1216.5 1962.1 1218.2C1968.9 1219.9 1980.5 1225.8 1987.7 1227.2C1995.0 1228.6 1999.6 1226.0 2005.6 1226.4C2011.6 1226.8 2016.8 1229.7 2023.6 1229.7C2030.4 1229.7 2040.3 1226.6 2046.7 1226.4C2053.1 1226.2 2057.0 1228.6 2062.1 1228.5C2067.2 1228.4 2071.8 1225.8 2077.4 1225.9C2083.0 1226.0 2089.4 1228.8 2095.4 1229.2C2101.4 1229.6 2106.5 1229.4 2113.3 1228.5C2120.1 1227.6 2130.0 1223.6 2136.4 1223.8C2142.8 1224.0 2147.1 1227.6 2151.8 1229.7C2156.5 1231.8 2160.5 1235.8 2164.6 1236.2C2168.7 1236.6 2172.3 1234.4 2176.2 1232.3C2180.0 1230.2 2183.2 1224.1 2187.7 1223.8C2192.2 1223.5 2198.0 1229.7 2203.1 1230.5C2208.2 1231.3 2213.4 1227.3 2218.5 1228.5C2223.6 1229.7 2227.8 1236.2 2233.8 1237.4C2239.8 1238.6 2248.0 1235.6 2254.4 1235.6C2260.8 1235.6 2267.2 1236.8 2272.3 1237.4C2277.4 1238.0 2280.1 1239.6 2285.1 1239.2C2290.1 1238.8 2299.4 1235.6 2302.3 1234.9"/>
<path class="c" stroke="#00ff00" stroke-width="7.60" d="M429.2 20.0C429.4 22.8 429.0 17.0 430.6 37.0C432.2 57.0 435.8 108.2 439.0 140.0C442.2 171.8 446.7 201.3 449.7 228.0C452.7 254.7 453.1 271.3 457.0 300.0C460.9 328.7 469.7 378.7 473.4 400.0C477.1 421.3 476.8 416.4 479.3 428.0C481.8 439.6 485.5 457.9 488.6 469.9C491.7 481.9 494.0 489.7 497.9 500.2C501.8 510.7 507.6 522.4 511.9 532.9C516.2 543.4 519.6 553.1 523.5 563.2C527.4 573.3 531.3 584.2 535.2 593.5C539.1 602.8 542.6 611.7 546.9 619.1C551.2 626.5 556.9 631.2 560.8 637.8C564.7 644.4 567.1 652.5 570.2 658.7C573.3 664.9 576.8 670.2 579.5 675.1C582.2 680.0 583.4 684.8 586.5 687.9C589.6 691.0 594.2 690.8 598.1 693.7C602.0 696.6 606.3 703.1 609.8 705.4C613.3 707.7 616.8 704.6 619.1 707.7C621.4 710.8 620.7 718.6 623.8 724.0C626.9 729.4 632.4 739.3 637.8 740.3C643.2 741.3 652.1 730.6 656.4 729.8C660.7 729.0 660.3 734.0 663.4 735.7C666.5 737.5 671.6 740.1 675.1 740.3C678.6 740.5 680.5 737.4 684.4 736.8C688.3 736.2 693.7 734.6 698.4 736.8C703.1 738.9 708.1 745.8 712.4 749.7C716.7 753.6 720.1 758.6 724.0 760.1C727.9 761.6 731.8 758.6 735.7 759.0C739.6 759.4 743.8 760.0 747.3 762.5C750.8 765.0 751.5 772.2 756.6 774.1C761.7 776.0 771.8 772.7 777.6 774.1C783.4 775.5 787.7 781.3 791.6 782.3C795.5 783.3 797.0 779.6 800.9 780.0C804.8 780.4 810.2 782.3 814.9 784.6C819.6 786.9 824.2 791.6 828.9 793.9C833.6 796.2 836.7 796.5 842.9 798.5C849.1 800.5 860.0 803.2 866.2 805.6C872.4 808.0 873.8 810.9 880.0 812.9C886.2 814.9 895.5 816.4 903.3 817.6C911.1 818.8 919.8 820.1 926.6 819.9C933.4 819.7 938.7 816.0 944.1 816.4C949.5 816.8 952.5 820.8 959.3 822.2C966.1 823.6 976.4 824.2 984.9 824.6C993.4 825.0 1000.8 825.6 1010.5 824.6C1020.2 823.6 1033.9 821.4 1043.2 818.7C1052.5 816.0 1060.3 810.2 1066.5 808.3C1072.7 806.4 1076.2 808.5 1080.5 807.1C1084.8 805.7 1087.4 804.4 1092.1 800.1C1096.8 795.8 1103.0 788.0 1108.4 781.4C1113.9 774.8 1119.3 768.3 1124.8 760.5C1130.2 752.7 1136.0 744.1 1141.1 734.8C1146.1 725.5 1150.8 715.4 1155.1 704.5C1159.4 693.6 1162.8 682.0 1166.7 669.6C1170.6 657.2 1174.5 643.1 1178.4 629.9C1182.3 616.7 1186.7 601.9 1190.0 590.3C1193.3 578.6 1194.0 575.0 1198.2 560.0C1202.4 545.0 1210.0 520.3 1215.2 500.0C1220.4 479.7 1224.5 457.3 1229.2 438.0C1233.9 418.7 1238.9 400.3 1243.2 384.4C1247.5 368.5 1250.9 354.8 1254.8 342.4C1258.7 330.0 1262.6 319.5 1266.5 309.8C1270.4 300.1 1274.2 291.5 1278.1 284.1C1282.0 276.7 1286.3 269.8 1289.8 265.5C1293.3 261.2 1296.0 259.7 1299.1 258.5C1302.2 257.3 1305.3 256.6 1308.4 258.5C1311.5 260.4 1314.7 265.1 1317.8 270.2C1320.9 275.2 1324.0 281.0 1327.1 288.8C1330.2 296.6 1333.3 307.1 1336.4 316.8C1339.5 326.5 1342.6 336.6 1345.7 347.1C1348.8 357.6 1352.0 368.4 1355.1 379.7C1358.2 391.0 1361.3 402.3 1364.4 414.7C1367.5 427.1 1371.2 443.4 1373.7 454.3C1376.2 465.2 1376.4 467.9 1379.3 480.0C1382.2 492.1 1387.0 511.1 1390.9 526.6C1394.8 542.1 1398.9 557.7 1402.6 573.2C1406.3 588.8 1409.6 604.4 1413.1 619.9C1416.6 635.4 1420.0 651.0 1423.5 666.5C1427.0 682.0 1430.5 697.6 1434.0 713.1C1437.5 728.6 1441.0 744.2 1444.5 759.7C1448.0 775.2 1451.9 791.9 1455.0 806.3C1458.1 820.7 1461.4 837.0 1463.2 846.0C1465.0 855.0 1463.7 850.7 1466.0 860.0C1468.3 869.3 1473.0 888.4 1477.2 902.0C1481.4 915.6 1486.4 928.0 1491.1 941.6C1495.8 955.2 1500.0 969.9 1505.1 983.5C1510.1 997.1 1516.0 1010.4 1521.4 1023.2C1526.9 1036.0 1532.3 1049.6 1537.8 1060.5C1543.2 1071.4 1547.9 1078.3 1554.1 1088.4C1560.3 1098.5 1567.7 1110.6 1575.1 1121.1C1582.5 1131.6 1589.8 1141.8 1598.4 1151.4C1607.0 1161.0 1618.7 1171.9 1626.5 1178.5C1634.3 1185.1 1639.5 1187.5 1645.1 1191.2C1650.7 1194.9 1655.0 1197.7 1660.0 1200.5C1665.0 1203.3 1669.7 1206.3 1675.0 1208.0C1680.3 1209.7 1686.7 1209.4 1691.7 1210.8C1696.7 1212.2 1700.8 1214.4 1704.8 1216.4C1708.8 1218.4 1711.3 1220.9 1716.0 1222.9C1720.7 1224.9 1728.1 1228.0 1732.8 1228.5C1737.5 1229.0 1740.0 1225.7 1744.0 1225.7C1748.0 1225.7 1753.0 1226.8 1757.0 1228.5C1761.0 1230.2 1763.5 1234.4 1768.2 1235.9C1772.9 1237.5 1779.6 1236.8 1785.0 1237.8C1790.4 1238.8 1795.3 1242.0 1800.5 1241.8C1805.7 1241.6 1810.4 1236.5 1815.9 1236.7C1821.5 1237.0 1828.2 1242.5 1833.8 1243.3C1839.3 1244.1 1843.6 1239.8 1849.2 1241.3C1854.8 1242.8 1859.5 1250.1 1867.2 1252.1C1874.9 1254.1 1886.0 1252.9 1895.4 1253.3C1904.8 1253.7 1915.9 1254.5 1923.6 1254.6C1931.3 1254.6 1936.0 1253.3 1941.5 1253.6C1947.0 1253.9 1950.9 1256.1 1956.9 1256.2C1962.9 1256.3 1971.0 1254.0 1977.4 1254.1C1983.8 1254.2 1989.0 1256.5 1995.4 1256.7C2001.8 1256.9 2009.1 1255.8 2015.9 1255.4C2022.7 1255.0 2028.7 1254.3 2036.4 1254.1C2044.1 1253.9 2054.0 1254.5 2062.1 1254.1C2070.2 1253.7 2078.7 1251.3 2085.1 1251.5C2091.5 1251.7 2095.8 1254.5 2100.5 1255.4C2105.2 1256.3 2109.5 1257.2 2113.3 1256.7C2117.2 1256.2 2120.2 1251.8 2123.6 1252.1C2127.0 1252.4 2130.0 1258.6 2133.8 1258.7C2137.7 1258.8 2142.6 1255.2 2146.7 1252.8C2150.8 1250.4 2154.4 1245.0 2158.2 1244.6C2162.0 1244.2 2164.3 1249.1 2169.7 1250.3C2175.0 1251.5 2184.3 1250.9 2190.3 1251.5C2196.3 1252.1 2200.5 1254.9 2205.6 1254.1C2210.7 1253.2 2216.3 1247.9 2221.0 1246.4C2225.7 1244.9 2229.5 1244.6 2233.8 1245.1C2238.1 1245.6 2242.4 1249.8 2246.7 1249.5C2251.0 1249.2 2254.8 1243.6 2259.5 1243.1C2264.2 1242.6 2270.6 1244.4 2274.9 1246.4C2279.2 1248.5 2280.5 1254.2 2285.1 1255.4C2289.7 1256.6 2299.4 1253.7 2302.3 1253.3"/>
<path class="c" stroke="#ff8000" stroke-width="7.60" d="M424.8 20.0C425.0 22.8 424.6 17.0 426.1 37.0C427.6 57.0 431.5 108.2 433.9 140.0C436.3 171.8 438.0 201.3 440.4 228.0C442.8 254.7 444.6 271.3 448.2 300.0C451.8 328.7 458.6 377.5 461.8 400.0C465.0 422.5 465.1 422.2 467.6 435.0C470.1 447.8 473.8 464.5 476.9 476.9C480.0 489.3 482.7 498.3 486.2 509.6C489.7 520.9 494.0 532.9 497.9 544.5C501.8 556.1 505.7 569.4 509.6 579.5C513.5 589.6 517.3 596.2 521.2 605.1C525.1 614.0 529.0 624.6 532.9 633.1C536.8 641.6 541.4 648.6 544.5 656.4C547.6 664.2 549.2 671.9 551.5 679.7C553.8 687.5 555.8 696.8 558.5 703.0C561.2 709.2 564.3 712.3 567.8 717.0C571.3 721.7 576.0 725.5 579.5 731.0C583.0 736.5 585.7 743.5 588.8 749.7C591.9 755.9 595.0 763.2 598.1 768.3C601.2 773.3 604.4 776.1 607.5 780.0C610.6 783.9 614.1 788.5 616.8 791.6C619.5 794.7 621.1 796.9 623.8 798.6C626.5 800.4 628.0 801.9 633.1 802.1C638.2 802.3 648.3 798.6 654.1 799.8C659.9 801.0 662.3 805.8 668.1 809.1C673.9 812.4 683.2 818.2 689.0 819.6C694.8 821.0 696.8 815.2 703.0 817.3C709.2 819.4 721.2 830.4 726.3 832.4C731.3 834.4 727.8 827.2 733.3 829.0C738.8 830.8 753.2 840.8 759.0 842.9C764.8 845.0 762.9 840.2 768.3 841.8C773.7 843.4 785.4 850.0 791.6 852.3C797.8 854.6 801.3 854.0 805.6 855.8C809.9 857.5 811.0 861.2 817.2 862.8C823.4 864.3 836.3 864.0 842.9 865.1C849.5 866.2 851.1 868.7 856.9 869.7C862.7 870.7 870.2 869.5 877.9 870.9C885.6 872.3 896.7 877.2 903.3 878.2C909.9 879.2 910.3 876.2 917.3 877.0C924.3 877.8 937.5 882.6 945.3 882.8C953.1 883.0 956.1 879.0 963.9 878.2C971.7 877.4 984.5 877.6 991.9 878.2C999.3 878.8 1002.8 882.3 1008.2 881.7C1013.6 881.1 1018.7 876.2 1024.5 874.7C1030.3 873.2 1037.0 874.0 1043.2 872.4C1049.4 870.8 1055.6 868.1 1061.8 865.4C1068.0 862.7 1074.3 860.3 1080.5 856.0C1086.7 851.7 1092.9 845.1 1099.1 839.7C1105.3 834.3 1111.6 830.4 1117.8 823.4C1124.0 816.4 1130.6 806.7 1136.4 797.8C1142.2 788.9 1147.3 780.7 1152.7 769.8C1158.1 758.9 1164.3 744.5 1169.0 732.5C1173.7 720.5 1176.8 709.9 1180.7 697.5C1184.6 685.1 1188.5 671.9 1192.4 657.9C1196.3 643.9 1199.7 629.9 1204.0 613.6C1208.3 597.3 1213.4 578.9 1218.0 560.0C1222.6 541.1 1227.3 517.2 1231.5 500.0C1235.7 482.8 1239.3 471.2 1243.2 456.6C1247.1 442.0 1250.9 425.2 1254.8 412.4C1258.7 399.6 1262.6 389.4 1266.5 379.7C1270.4 370.0 1274.2 361.1 1278.1 354.1C1282.0 347.1 1286.5 341.1 1289.8 337.8C1293.1 334.5 1294.8 334.3 1297.9 334.3C1301.0 334.3 1305.1 335.3 1308.4 337.8C1311.7 340.3 1314.7 344.3 1317.8 349.4C1320.9 354.4 1324.0 360.7 1327.1 368.1C1330.2 375.5 1333.3 384.4 1336.4 393.7C1339.5 403.0 1342.6 413.5 1345.7 424.0C1348.8 434.5 1352.4 447.3 1355.1 456.6C1357.8 465.9 1358.9 468.3 1361.8 480.0C1364.7 491.7 1368.6 511.1 1372.3 526.6C1376.0 542.1 1380.0 557.7 1383.9 573.2C1387.8 588.8 1391.9 604.4 1395.6 619.9C1399.3 635.4 1402.6 651.0 1406.1 666.5C1409.6 682.0 1413.1 697.6 1416.6 713.1C1420.1 728.6 1423.5 744.2 1427.0 759.7C1430.5 775.2 1434.4 791.9 1437.5 806.3C1440.6 820.7 1443.9 837.0 1445.7 846.0C1447.5 855.0 1446.0 849.1 1448.5 860.0C1451.0 870.9 1456.4 895.0 1460.8 911.3C1465.2 927.6 1469.8 942.4 1474.8 957.9C1479.8 973.4 1485.6 988.6 1491.1 1004.5C1496.5 1020.4 1502.0 1038.7 1507.5 1053.5C1513.0 1068.3 1518.0 1080.7 1523.8 1093.1C1529.6 1105.5 1535.8 1117.2 1542.4 1128.1C1549.0 1139.0 1556.9 1149.6 1563.4 1158.4C1570.0 1167.2 1575.9 1174.0 1581.7 1181.0C1587.5 1188.0 1592.6 1194.5 1598.5 1200.5C1604.4 1206.5 1611.3 1212.5 1617.2 1217.3C1623.1 1222.1 1627.7 1226.3 1633.9 1229.4C1640.1 1232.5 1648.2 1232.6 1654.4 1235.9C1660.6 1239.2 1665.6 1245.6 1671.2 1249.0C1676.8 1252.4 1682.4 1254.3 1688.0 1256.5C1693.6 1258.7 1700.1 1261.0 1704.8 1262.1C1709.5 1263.2 1710.4 1260.8 1716.0 1263.0C1721.6 1265.2 1731.0 1273.1 1738.4 1275.1C1745.9 1277.1 1753.8 1274.2 1760.7 1275.1C1767.6 1276.0 1774.2 1279.1 1780.0 1280.5C1785.8 1281.9 1790.3 1282.5 1795.4 1283.6C1800.5 1284.7 1805.7 1287.2 1810.8 1286.9C1815.9 1286.6 1819.8 1281.6 1826.2 1281.8C1832.6 1282.0 1841.5 1286.0 1849.2 1287.9C1856.9 1289.8 1865.9 1292.5 1872.3 1293.1C1878.7 1293.7 1882.6 1290.9 1887.7 1291.3C1892.8 1291.7 1895.8 1295.2 1903.1 1295.6C1910.4 1296.0 1921.9 1294.7 1931.3 1293.8C1940.7 1292.9 1949.7 1290.5 1959.5 1290.0C1969.3 1289.5 1981.3 1289.7 1990.3 1290.5C1999.3 1291.3 2006.0 1295.0 2013.3 1294.6C2020.5 1294.2 2027.4 1288.8 2033.8 1287.9C2040.2 1287.0 2046.7 1288.6 2051.8 1289.2C2056.9 1289.8 2060.3 1291.9 2064.6 1291.8C2068.9 1291.7 2072.7 1288.8 2077.4 1288.7C2082.1 1288.6 2088.5 1290.2 2092.8 1291.3C2097.1 1292.4 2099.7 1295.5 2103.1 1295.1C2106.5 1294.7 2109.9 1289.5 2113.3 1288.7C2116.7 1287.9 2120.0 1289.1 2123.6 1290.5C2127.2 1291.9 2130.4 1297.3 2135.1 1297.2C2139.8 1297.1 2144.8 1292.3 2151.8 1290.0C2158.9 1287.7 2170.6 1284.4 2177.4 1283.6C2184.2 1282.8 2187.7 1285.2 2192.8 1284.9C2197.9 1284.6 2203.5 1281.5 2208.2 1281.8C2212.9 1282.1 2216.7 1286.2 2221.0 1286.9C2225.3 1287.6 2228.9 1284.6 2233.8 1286.2C2238.7 1287.8 2245.4 1297.1 2250.5 1296.4C2255.6 1295.8 2260.5 1284.7 2264.6 1282.3C2268.7 1279.9 2271.1 1280.5 2274.9 1281.8C2278.8 1283.1 2283.1 1288.5 2287.7 1290.0C2292.3 1291.5 2299.9 1290.4 2302.3 1290.5"/>
<path class="c" stroke="#800000" stroke-width="7.60" d="M411.3 20.0C411.5 22.8 411.1 17.0 412.6 37.0C414.1 57.0 418.0 108.2 420.3 140.0C422.6 171.8 424.4 201.3 426.4 228.0C428.4 254.7 430.0 271.3 432.4 300.0C434.8 328.7 438.4 375.6 440.8 400.0C443.2 424.4 444.1 427.2 446.6 446.6C449.1 466.0 452.4 494.1 455.9 516.6C459.4 539.1 463.7 562.4 467.6 581.8C471.5 601.2 475.8 618.3 479.3 633.1C482.8 647.9 485.5 659.5 488.6 670.4C491.7 681.3 494.4 689.5 497.9 698.4C501.4 707.3 506.5 716.6 509.6 724.0C512.7 731.4 513.5 735.3 516.6 742.7C519.7 750.1 525.1 762.1 528.2 768.3C531.3 774.5 532.5 775.0 535.2 780.0C537.9 785.0 540.6 791.6 544.5 798.6C548.4 805.6 554.6 814.6 558.5 822.0C562.4 829.4 564.3 835.5 567.8 842.9C571.3 850.3 575.6 860.0 579.5 866.2C583.4 872.4 587.6 876.3 591.1 880.2C594.6 884.1 598.0 885.4 600.5 889.5C603.0 893.6 603.2 901.4 606.3 904.7C609.4 908.0 615.0 907.5 619.1 909.4C623.2 911.3 627.1 913.5 630.8 916.4C634.5 919.3 637.8 925.0 641.3 926.9C644.8 928.8 648.0 927.2 651.7 928.0C655.4 928.8 658.3 930.0 663.4 931.5C668.5 933.0 677.4 934.3 682.4 936.8C687.4 939.3 689.0 944.7 693.6 946.6C698.2 948.5 704.7 945.9 710.3 948.0C715.9 950.1 721.5 957.6 727.1 959.2C732.7 960.8 736.4 956.4 743.9 957.8C751.4 959.2 764.0 964.6 771.9 967.6C779.8 970.6 785.9 974.5 791.5 975.9C797.1 977.3 799.0 974.3 805.5 975.9C812.0 977.5 824.1 984.1 830.6 985.7C837.1 987.3 838.5 984.5 844.6 985.7C850.7 986.9 859.1 990.8 867.0 992.7C874.9 994.6 883.8 995.6 892.2 996.9C900.6 998.2 910.3 1000.5 917.3 1000.6C924.3 1000.8 927.6 997.6 934.1 997.8C940.6 998.0 947.2 1001.4 956.5 1001.7C965.8 1002.0 981.7 1000.7 990.1 999.7C998.5 998.7 1000.4 996.4 1006.9 995.5C1013.4 994.6 1020.8 995.5 1029.2 994.1C1037.6 992.7 1048.8 989.9 1057.2 987.1C1065.6 984.3 1073.1 980.5 1079.6 977.3C1086.1 974.0 1090.8 971.1 1096.4 967.6C1102.0 964.1 1108.2 960.7 1113.1 956.4C1117.9 952.1 1121.6 946.7 1125.5 942.0C1129.4 937.3 1130.7 937.6 1136.4 928.3C1142.1 919.0 1152.3 901.1 1159.7 886.3C1167.1 871.5 1174.5 855.2 1180.7 839.7C1186.9 824.2 1192.0 808.6 1197.0 793.1C1202.0 777.6 1206.7 762.0 1211.0 746.5C1215.3 731.0 1218.8 715.4 1222.7 699.9C1226.6 684.4 1230.4 668.8 1234.3 653.2C1238.2 637.7 1242.0 622.1 1246.0 606.6C1250.0 591.1 1253.9 573.6 1258.5 560.0C1263.1 546.4 1268.7 533.8 1273.5 525.0C1278.3 516.2 1282.8 511.2 1287.5 507.0C1292.2 502.8 1297.2 499.8 1301.5 500.0C1305.8 500.2 1309.4 504.4 1313.0 508.5C1316.6 512.5 1319.6 517.4 1323.3 524.3C1327.0 531.2 1331.1 539.8 1335.0 549.9C1338.9 560.0 1342.7 572.5 1346.6 584.9C1350.5 597.3 1354.4 610.5 1358.3 624.5C1362.2 638.5 1366.0 653.2 1369.9 668.8C1373.8 684.3 1377.7 701.5 1381.6 717.8C1385.5 734.1 1389.3 750.4 1393.2 766.7C1397.1 783.0 1401.4 801.3 1404.9 815.7C1408.4 830.1 1411.5 842.3 1414.2 853.0C1416.9 863.7 1418.9 871.1 1421.2 880.0C1423.5 888.9 1424.7 893.6 1428.2 906.6C1431.7 919.6 1437.5 940.4 1442.2 957.9C1446.9 975.4 1451.5 994.8 1456.2 1011.5C1460.9 1028.2 1465.2 1042.5 1470.2 1058.1C1475.2 1073.6 1481.1 1090.4 1486.5 1104.8C1491.9 1119.2 1497.5 1131.9 1502.8 1144.4C1508.1 1156.9 1513.2 1170.3 1518.3 1180.0C1523.4 1189.7 1528.2 1194.6 1533.2 1202.4C1538.2 1210.2 1543.2 1219.1 1548.2 1226.6C1553.2 1234.0 1558.1 1240.9 1563.1 1247.1C1568.1 1253.3 1572.4 1258.0 1578.0 1263.9C1583.6 1269.8 1590.7 1277.6 1596.6 1282.6C1602.5 1287.6 1608.1 1289.8 1613.4 1293.8C1618.7 1297.8 1623.0 1303.1 1628.3 1306.8C1633.6 1310.5 1640.1 1313.0 1645.1 1316.1C1650.1 1319.2 1653.5 1323.3 1658.2 1325.5C1662.9 1327.7 1667.8 1327.0 1673.1 1329.2C1678.4 1331.4 1684.0 1336.3 1689.9 1338.5C1695.8 1340.7 1702.3 1340.0 1708.5 1342.2C1714.7 1344.4 1721.0 1350.8 1727.2 1351.6C1733.4 1352.4 1739.6 1346.0 1745.8 1346.9C1752.0 1347.8 1758.6 1355.7 1764.5 1357.2C1770.4 1358.8 1775.7 1355.4 1781.3 1356.2C1786.9 1357.0 1790.4 1361.3 1797.9 1361.8C1805.4 1362.3 1818.9 1359.3 1826.2 1359.2C1833.5 1359.1 1834.7 1359.8 1841.5 1361.3C1848.3 1362.8 1859.9 1367.3 1867.2 1368.2C1874.5 1369.1 1878.7 1366.6 1885.1 1366.9C1891.5 1367.2 1899.6 1368.9 1905.6 1370.0C1911.6 1371.1 1915.0 1373.6 1921.0 1373.3C1927.0 1373.0 1935.1 1368.9 1941.5 1368.2C1947.9 1367.5 1952.7 1368.0 1959.5 1369.0C1966.3 1370.0 1975.3 1374.2 1982.6 1374.1C1989.9 1374.0 1996.3 1368.5 2003.1 1368.2C2009.9 1367.9 2015.9 1372.1 2023.6 1372.1C2031.3 1372.1 2040.6 1368.4 2049.2 1368.2C2057.8 1368.0 2066.3 1370.7 2074.9 1370.8C2083.5 1370.9 2091.9 1369.4 2100.5 1369.0C2109.1 1368.6 2118.5 1368.9 2126.2 1368.2C2133.9 1367.5 2139.9 1364.8 2146.7 1364.9C2153.5 1365.0 2161.6 1368.8 2167.2 1369.0C2172.8 1369.2 2174.9 1366.8 2180.0 1366.4C2185.1 1366.1 2190.6 1365.6 2197.9 1366.9C2205.2 1368.2 2217.6 1373.6 2223.6 1374.1C2229.6 1374.6 2227.4 1370.1 2233.8 1370.0C2240.2 1369.9 2255.7 1373.8 2262.1 1373.3C2268.5 1372.8 2268.5 1368.1 2272.3 1366.9C2276.1 1365.8 2280.1 1367.9 2285.1 1366.4C2290.1 1364.9 2299.4 1359.3 2302.3 1357.9"/>
<path class="c" stroke="#000080" stroke-width="7.60" d="M406.8 20.0C407.0 22.8 406.6 17.0 408.0 37.0C409.4 57.0 413.1 108.2 415.0 140.0C416.9 171.8 417.9 201.3 419.4 228.0C420.9 254.7 421.8 271.3 424.2 300.0C426.6 328.7 431.2 371.7 433.8 400.0C436.4 428.3 437.1 445.8 439.6 469.9C442.1 494.0 445.5 520.0 449.0 544.5C452.5 569.0 456.7 596.2 460.6 616.8C464.5 637.4 468.4 650.6 472.3 668.1C476.2 685.6 480.4 707.0 483.9 721.7C487.4 736.5 490.1 746.9 493.2 756.6C496.3 766.3 499.1 773.0 502.6 780.0C506.1 787.0 510.7 791.6 514.2 798.6C517.7 805.6 520.0 813.5 523.5 822.0C527.0 830.5 531.7 841.8 535.2 849.9C538.7 858.0 541.0 865.1 544.5 870.9C548.0 876.7 552.7 879.1 556.2 884.9C559.7 890.7 561.6 898.5 565.5 905.9C569.4 913.3 575.6 924.2 579.5 929.2C583.4 934.2 585.3 932.7 588.8 936.2C592.3 939.7 596.6 945.4 600.5 950.2C604.4 955.1 607.1 961.6 612.1 965.3C617.1 969.0 625.0 969.4 630.8 972.3C636.6 975.2 642.5 980.5 647.1 982.8C651.8 985.1 654.8 985.7 658.7 986.3C662.6 986.9 667.6 984.5 670.4 986.3C673.2 988.1 672.2 993.0 675.4 996.9C678.6 1000.8 684.5 1008.6 689.4 1009.5C694.3 1010.4 700.4 1003.2 704.8 1002.5C709.2 1001.8 710.8 1004.4 715.9 1005.3C721.0 1006.2 729.4 1005.8 735.5 1008.1C741.6 1010.4 746.7 1017.4 752.3 1019.3C757.9 1021.2 761.6 1017.7 769.1 1019.3C776.6 1020.9 789.2 1026.1 797.1 1029.1C805.0 1032.1 809.6 1035.4 816.6 1037.5C823.6 1039.6 830.1 1039.6 839.0 1041.7C847.9 1043.8 860.9 1048.8 869.8 1050.1C878.7 1051.3 884.3 1049.0 892.2 1049.2C900.1 1049.4 909.8 1050.4 917.3 1051.5C924.8 1052.6 930.4 1055.5 936.9 1055.7C943.4 1055.9 949.0 1053.7 956.5 1052.9C964.0 1052.1 973.8 1050.7 981.7 1050.9C989.6 1051.1 996.2 1054.7 1004.1 1054.3C1012.0 1053.9 1020.4 1051.0 1029.2 1048.7C1038.0 1046.4 1047.9 1043.3 1057.2 1040.3C1066.5 1037.3 1076.8 1035.2 1085.2 1030.5C1093.6 1025.8 1100.1 1019.1 1107.6 1012.3C1115.0 1005.5 1123.4 997.8 1129.9 989.9C1136.4 982.0 1141.6 973.2 1146.7 964.8C1151.8 956.4 1156.6 948.0 1160.7 939.6C1164.8 931.2 1166.1 927.1 1171.4 914.3C1176.7 901.5 1186.2 879.3 1192.4 863.0C1198.6 846.7 1203.7 831.9 1208.7 816.4C1213.8 800.9 1218.4 785.3 1222.7 769.8C1227.0 754.3 1230.4 738.7 1234.3 723.2C1238.2 707.7 1241.3 692.2 1246.0 676.6C1250.7 661.0 1257.2 642.3 1262.3 629.9C1267.3 617.5 1271.6 609.4 1276.3 602.0C1281.0 594.6 1286.0 588.9 1290.3 585.6C1294.6 582.3 1298.0 581.9 1301.9 582.1C1305.8 582.3 1309.7 583.5 1313.6 586.8C1317.5 590.1 1321.3 594.8 1325.2 602.0C1329.1 609.2 1333.3 619.1 1336.9 629.9C1340.5 640.6 1343.0 653.8 1346.6 666.5C1350.2 679.2 1354.4 692.1 1358.3 706.1C1362.2 720.1 1366.0 735.6 1369.9 750.4C1373.8 765.2 1377.7 780.7 1381.6 794.7C1385.5 808.7 1389.9 823.4 1393.2 834.3C1396.5 845.2 1398.3 848.0 1401.4 860.0C1404.5 872.0 1407.8 890.3 1411.9 906.6C1416.0 922.9 1421.2 940.4 1425.9 957.9C1430.6 975.4 1435.2 994.0 1439.9 1011.5C1444.6 1029.0 1449.2 1047.2 1453.8 1062.8C1458.4 1078.3 1462.8 1090.8 1467.8 1104.8C1472.8 1118.8 1479.1 1134.2 1484.1 1146.7C1489.1 1159.2 1493.6 1170.7 1497.8 1180.0C1502.0 1189.3 1505.0 1195.2 1509.0 1202.4C1513.0 1209.6 1517.8 1216.1 1522.1 1222.9C1526.4 1229.7 1531.1 1236.6 1535.1 1243.4C1539.1 1250.2 1542.3 1258.0 1546.3 1263.9C1550.3 1269.8 1554.9 1274.1 1559.3 1278.8C1563.7 1283.5 1567.4 1287.9 1572.4 1291.9C1577.4 1296.0 1584.5 1298.8 1589.2 1303.1C1593.9 1307.4 1596.4 1314.0 1600.4 1318.0C1604.4 1322.0 1609.1 1324.8 1613.4 1327.3C1617.8 1329.8 1622.5 1330.4 1626.5 1332.9C1630.5 1335.4 1633.7 1339.4 1637.7 1342.2C1641.7 1345.0 1646.7 1348.5 1650.7 1349.7C1654.7 1351.0 1657.6 1348.5 1661.9 1349.7C1666.2 1351.0 1672.1 1354.9 1676.8 1357.2C1681.5 1359.5 1684.9 1361.9 1689.9 1363.7C1694.9 1365.5 1700.8 1366.9 1706.7 1368.3C1712.6 1369.7 1718.5 1370.7 1725.3 1372.1C1732.1 1373.5 1740.5 1375.5 1747.7 1376.7C1754.9 1377.9 1761.7 1378.2 1768.2 1379.5C1774.7 1380.8 1780.7 1382.0 1786.9 1384.2C1793.1 1386.4 1799.0 1391.7 1805.6 1392.6C1812.1 1393.5 1819.3 1389.3 1826.2 1389.5C1833.1 1389.7 1839.9 1392.9 1846.7 1393.8C1853.5 1394.7 1860.8 1394.3 1867.2 1395.1C1873.6 1395.9 1878.7 1398.5 1885.1 1398.5C1891.5 1398.5 1899.2 1394.9 1905.6 1395.1C1912.0 1395.3 1916.8 1399.6 1923.6 1399.7C1930.4 1399.8 1939.0 1396.3 1946.7 1395.6C1954.4 1394.9 1962.0 1395.2 1969.7 1395.6C1977.4 1395.9 1985.1 1397.7 1992.8 1397.7C2000.5 1397.7 2008.6 1395.7 2015.9 1395.6C2023.2 1395.5 2028.7 1396.8 2036.4 1397.2C2044.1 1397.6 2054.4 1397.7 2062.1 1397.7C2069.8 1397.7 2075.5 1396.3 2082.6 1397.2C2089.7 1398.1 2098.0 1402.9 2104.4 1403.3C2110.8 1403.7 2115.2 1399.8 2121.0 1399.7C2126.8 1399.6 2133.0 1402.8 2139.0 1402.8C2145.0 1402.8 2151.3 1400.8 2156.9 1399.7C2162.5 1398.6 2166.7 1396.1 2172.3 1396.4C2177.9 1396.7 2184.3 1401.6 2190.3 1401.5C2196.3 1401.4 2203.9 1395.9 2208.2 1395.6C2212.5 1395.3 2212.1 1400.2 2215.9 1399.7C2219.8 1399.2 2225.3 1393.0 2231.3 1392.6C2237.3 1392.2 2246.2 1397.7 2251.8 1397.2C2257.4 1396.7 2258.6 1390.8 2264.6 1389.5C2270.6 1388.2 2281.4 1387.7 2287.7 1389.5C2294.0 1391.3 2299.9 1398.5 2302.3 1400.3"/>
<path class="c" stroke="#ff0080" stroke-width="7.60" d="M397.0 20.0C397.2 22.8 396.8 17.0 398.3 37.0C399.8 57.0 404.0 108.2 406.0 140.0C408.0 171.8 408.7 201.3 410.1 228.0C411.6 254.7 412.7 271.3 414.7 300.0C416.7 328.7 419.9 367.8 422.1 400.0C424.3 432.2 425.9 466.0 428.0 493.2C430.1 520.4 432.3 539.9 435.0 563.2C437.7 586.5 441.2 609.8 444.3 633.1C447.4 656.4 450.4 681.6 453.6 703.0C456.8 724.4 461.3 748.5 463.6 761.3C465.9 774.1 465.4 769.9 467.6 780.0C469.8 790.1 473.4 807.6 476.9 822.0C480.4 836.4 484.7 855.0 488.6 866.2C492.5 877.5 496.3 881.0 500.2 889.5C504.1 898.0 507.6 907.4 511.9 917.5C516.2 927.6 521.2 940.5 525.9 950.2C530.6 959.9 535.6 969.6 539.9 975.8C544.2 982.0 548.0 982.8 551.5 987.5C555.0 992.2 557.7 996.4 560.8 1003.8C563.9 1011.2 566.7 1025.1 570.2 1031.7C573.7 1038.3 577.5 1040.3 581.8 1043.4C586.1 1046.5 591.9 1046.5 595.8 1050.4C599.7 1054.3 600.8 1063.0 605.1 1066.7C609.4 1070.4 616.0 1069.8 621.4 1072.5C626.8 1075.2 633.5 1081.4 637.8 1083.0C642.1 1084.6 643.4 1081.1 647.1 1081.9C650.8 1082.7 655.5 1085.4 660.0 1087.8C664.5 1090.2 669.8 1094.1 674.0 1096.2C678.2 1098.3 681.2 1100.4 685.2 1100.4C689.2 1100.4 692.2 1094.3 697.8 1096.2C703.4 1098.1 712.9 1109.6 718.7 1111.6C724.5 1113.6 727.6 1108.1 732.7 1108.3C737.8 1108.5 744.4 1111.2 749.5 1113.0C754.6 1114.8 757.9 1117.9 763.5 1119.2C769.1 1120.5 775.6 1120.0 783.1 1120.8C790.6 1121.6 800.4 1121.9 808.3 1124.2C816.2 1126.5 824.5 1132.8 830.6 1134.8C836.7 1136.8 839.5 1135.0 844.6 1135.9C849.7 1136.8 855.3 1139.3 861.4 1140.4C867.5 1141.5 874.0 1141.3 881.0 1142.4C888.0 1143.5 896.4 1145.9 903.4 1147.1C910.4 1148.3 916.8 1148.6 922.9 1149.4C929.0 1150.2 932.2 1152.0 939.7 1152.2C947.2 1152.4 960.2 1151.2 967.7 1150.8C975.2 1150.4 977.5 1149.9 984.5 1149.9C991.5 1149.9 1001.3 1151.6 1009.7 1150.8C1018.1 1150.0 1026.9 1146.8 1034.8 1145.2C1042.7 1143.6 1050.7 1143.0 1057.2 1141.0C1063.7 1139.0 1068.4 1135.4 1074.0 1133.1C1079.6 1130.8 1085.2 1130.3 1090.8 1127.0C1096.4 1123.7 1101.1 1118.6 1107.6 1113.0C1114.1 1107.4 1123.4 1101.3 1129.9 1093.4C1136.4 1085.5 1141.1 1074.3 1146.7 1065.5C1152.3 1056.7 1158.4 1049.6 1163.5 1040.3C1168.6 1031.0 1172.8 1020.2 1177.5 1009.5C1182.2 998.8 1187.3 986.6 1191.5 975.9C1195.7 965.2 1199.1 956.2 1202.7 945.2C1206.3 934.2 1208.8 922.6 1213.3 909.7C1217.8 896.8 1224.7 882.5 1229.7 867.7C1234.8 852.9 1238.9 835.5 1243.6 821.1C1248.2 806.7 1252.9 791.9 1257.6 781.4C1262.3 770.9 1266.9 766.2 1271.6 758.1C1276.3 750.0 1280.9 738.1 1285.6 732.5C1290.3 726.9 1295.3 725.0 1299.6 724.3C1303.9 723.6 1307.2 724.9 1311.2 728.5C1315.2 732.1 1319.3 739.0 1323.3 745.7C1327.3 752.5 1331.1 759.7 1335.0 769.0C1338.9 778.3 1342.7 790.8 1346.6 801.7C1350.5 812.6 1354.4 823.8 1358.3 834.3C1362.2 844.8 1366.0 852.5 1369.9 864.6C1373.8 876.7 1377.3 891.1 1381.6 906.6C1385.9 922.1 1390.9 940.4 1395.6 957.9C1400.3 975.4 1404.5 994.8 1409.6 1011.5C1414.6 1028.2 1420.9 1042.5 1425.9 1058.1C1431.0 1073.6 1435.2 1089.6 1439.9 1104.8C1444.6 1120.0 1449.6 1136.5 1453.8 1149.0C1458.0 1161.5 1461.6 1170.2 1465.2 1180.0C1468.8 1189.8 1471.5 1198.0 1475.4 1208.0C1479.3 1218.0 1484.2 1230.4 1488.5 1239.7C1492.8 1249.0 1497.2 1257.1 1501.5 1263.9C1505.8 1270.7 1510.2 1274.2 1514.6 1280.7C1518.9 1287.2 1523.2 1296.3 1527.6 1303.1C1531.9 1309.9 1536.0 1315.8 1540.7 1321.7C1545.4 1327.6 1550.6 1333.2 1555.6 1338.5C1560.6 1343.8 1565.5 1349.1 1570.5 1353.4C1575.5 1357.8 1580.5 1360.9 1585.5 1364.6C1590.5 1368.3 1595.4 1372.1 1600.4 1375.8C1605.4 1379.5 1609.7 1383.6 1615.3 1387.0C1620.9 1390.4 1628.0 1393.2 1633.9 1396.3C1639.8 1399.4 1644.8 1403.7 1650.7 1405.6C1656.6 1407.5 1663.8 1406.2 1669.4 1407.9C1675.0 1409.6 1679.7 1413.8 1684.3 1415.9C1688.9 1418.0 1692.9 1420.3 1697.3 1420.6C1701.7 1420.9 1704.8 1417.0 1710.4 1417.8C1716.0 1418.6 1725.0 1424.0 1730.9 1425.2C1736.8 1426.4 1739.9 1424.2 1745.8 1424.7C1751.7 1425.2 1760.4 1427.1 1766.3 1428.0C1772.2 1428.9 1775.4 1428.2 1781.3 1429.9C1787.2 1431.6 1793.5 1436.3 1801.8 1438.3C1810.1 1440.3 1820.4 1440.9 1831.3 1441.8C1842.2 1442.7 1857.4 1442.3 1867.2 1443.8C1877.0 1445.3 1883.9 1450.5 1890.3 1451.0C1896.7 1451.5 1898.8 1446.9 1905.6 1446.9C1912.4 1446.9 1922.3 1450.3 1931.3 1451.0C1940.3 1451.7 1950.5 1450.6 1959.5 1451.0C1968.5 1451.4 1977.4 1453.8 1985.1 1453.6C1992.8 1453.3 1997.0 1449.9 2005.6 1449.5C2014.1 1449.1 2026.6 1450.7 2036.4 1451.0C2046.2 1451.3 2056.9 1450.5 2064.6 1451.5C2072.3 1452.5 2077.0 1456.1 2082.6 1457.2C2088.2 1458.3 2091.5 1458.3 2097.9 1457.9C2104.3 1457.5 2112.0 1455.2 2121.0 1454.6C2130.0 1454.0 2143.2 1454.6 2151.8 1454.1C2160.4 1453.6 2166.3 1451.5 2172.3 1451.5C2178.3 1451.5 2183.0 1454.4 2187.7 1454.1C2192.4 1453.8 2196.7 1450.3 2200.5 1449.5C2204.3 1448.7 2206.5 1447.2 2210.8 1449.5C2215.1 1451.8 2221.9 1460.8 2226.2 1463.1C2230.5 1465.4 2232.1 1464.7 2236.4 1463.1C2240.7 1461.5 2246.7 1455.0 2251.8 1453.6C2256.9 1452.2 2260.8 1454.3 2267.2 1454.6C2273.6 1454.9 2284.5 1454.4 2290.3 1455.4C2296.2 1456.4 2300.3 1459.7 2302.3 1460.5"/>
<path class="c" stroke="#808000" stroke-width="7.60" d="M390.6 20.0C390.8 22.8 390.5 17.0 391.6 37.0C392.7 57.0 395.9 108.2 397.5 140.0C399.1 171.8 400.1 201.3 401.5 228.0C402.9 254.7 404.0 271.3 405.9 300.0C407.8 328.7 410.5 363.9 412.8 400.0C415.1 436.1 417.5 481.6 419.8 516.6C422.1 551.6 424.3 578.7 426.8 609.8C429.3 640.9 432.2 677.8 435.0 703.0C437.8 728.2 441.5 748.5 443.4 761.3C445.3 774.1 444.9 769.9 446.6 780.0C448.3 790.1 451.1 807.6 453.6 822.0C456.1 836.4 458.3 850.7 461.8 866.2C465.3 881.7 470.1 900.0 474.6 915.2C479.1 930.4 484.3 944.8 488.6 957.2C492.9 969.6 496.7 981.3 500.2 989.8C503.7 998.3 505.7 1001.8 509.6 1008.4C513.5 1015.0 518.9 1021.6 523.5 1029.4C528.1 1037.2 532.8 1045.8 537.5 1055.1C542.2 1064.4 547.2 1078.0 551.5 1085.4C555.8 1092.8 559.3 1095.5 563.2 1099.4C567.1 1103.3 570.5 1103.7 574.8 1108.7C579.1 1113.8 583.8 1123.5 588.8 1129.7C593.8 1135.9 599.7 1141.3 605.1 1146.0C610.5 1150.7 616.4 1154.5 621.4 1157.6C626.4 1160.7 631.1 1163.6 635.4 1164.6C639.7 1165.6 643.0 1162.3 647.1 1163.5C651.2 1164.7 655.0 1168.7 660.0 1171.7C665.0 1174.7 672.1 1179.5 676.8 1181.5C681.5 1183.5 683.1 1183.7 688.0 1183.5C692.9 1183.3 701.6 1179.5 706.2 1180.1C710.9 1180.7 711.5 1185.5 715.9 1187.1C720.3 1188.7 726.2 1188.3 732.7 1189.9C739.2 1191.5 748.6 1195.4 755.1 1196.9C761.6 1198.5 766.8 1198.2 771.9 1199.2C777.0 1200.2 781.2 1202.3 785.9 1203.1C790.6 1203.9 793.8 1202.5 799.9 1203.9C806.0 1205.3 815.2 1209.8 822.2 1211.5C829.2 1213.2 835.3 1213.2 841.8 1214.3C848.3 1215.4 854.9 1216.6 861.4 1217.9C867.9 1219.2 873.5 1220.7 881.0 1222.1C888.5 1223.5 898.8 1225.7 906.2 1226.3C913.7 1226.9 919.2 1225.3 925.7 1225.5C932.2 1225.7 938.3 1227.4 945.3 1227.7C952.3 1228.0 958.4 1226.9 967.7 1227.1C977.0 1227.3 992.0 1229.2 1001.3 1229.1C1010.6 1229.0 1015.2 1227.6 1023.6 1226.3C1032.0 1225.0 1043.2 1223.5 1051.6 1221.5C1060.0 1219.5 1067.0 1216.9 1074.0 1214.3C1081.0 1211.7 1087.1 1209.7 1093.6 1205.9C1100.1 1202.1 1106.6 1196.5 1113.1 1191.3C1119.6 1186.1 1126.6 1181.0 1132.7 1174.5C1138.8 1168.0 1143.9 1160.6 1149.5 1152.2C1155.1 1143.8 1160.7 1134.5 1166.3 1124.2C1171.9 1113.9 1177.5 1102.7 1183.1 1090.6C1188.7 1078.5 1194.3 1065.0 1199.9 1051.5C1205.5 1038.0 1211.2 1024.4 1216.6 1009.5C1221.9 994.6 1226.7 977.9 1232.0 962.0C1237.3 946.1 1242.9 928.8 1248.3 914.3C1253.7 899.8 1259.2 885.6 1264.6 874.7C1270.0 863.8 1276.2 855.0 1280.9 849.0C1285.6 843.0 1289.1 840.7 1292.6 838.6C1296.1 836.5 1298.7 835.8 1301.9 836.2C1305.1 836.6 1308.1 838.1 1311.7 840.9C1315.3 843.7 1319.8 848.7 1323.3 853.0C1326.8 857.3 1328.7 859.9 1332.6 866.9C1336.5 873.9 1341.9 883.7 1346.6 895.0C1351.3 906.3 1355.9 921.0 1360.6 934.6C1365.3 948.2 1369.9 962.6 1374.6 976.6C1379.3 990.6 1384.3 1004.1 1388.6 1018.5C1392.9 1032.9 1396.3 1048.8 1400.2 1062.8C1404.1 1076.8 1408.0 1090.4 1411.9 1102.4C1415.8 1114.5 1419.1 1123.8 1423.5 1135.1C1427.9 1146.4 1435.3 1162.0 1438.5 1170.0C1441.7 1178.0 1440.2 1175.1 1442.6 1183.0C1445.0 1190.9 1449.5 1206.0 1453.1 1217.3C1456.7 1228.6 1460.2 1240.3 1464.2 1250.9C1468.2 1261.5 1473.0 1271.4 1477.3 1280.7C1481.6 1290.0 1485.9 1298.4 1490.3 1306.8C1494.7 1315.2 1498.7 1323.3 1503.4 1331.1C1508.1 1338.9 1513.3 1346.6 1518.3 1353.4C1523.3 1360.2 1528.2 1366.2 1533.2 1372.1C1538.2 1378.0 1543.2 1383.6 1548.2 1388.9C1553.2 1394.2 1558.4 1400.1 1563.1 1403.8C1567.8 1407.5 1571.8 1408.6 1576.1 1411.2C1580.4 1413.8 1585.2 1416.8 1589.2 1419.6C1593.2 1422.4 1596.1 1425.4 1600.4 1428.0C1604.8 1430.6 1609.4 1432.6 1615.3 1435.1C1621.2 1437.6 1630.2 1440.0 1635.8 1442.9C1641.4 1445.8 1643.6 1450.0 1648.9 1452.3C1654.2 1454.5 1661.6 1454.4 1667.5 1456.4C1673.4 1458.4 1678.4 1463.2 1684.3 1464.4C1690.2 1465.6 1697.6 1463.2 1702.9 1463.8C1708.2 1464.4 1711.7 1466.3 1716.0 1468.1C1720.3 1469.9 1723.7 1473.3 1729.0 1474.6C1734.3 1475.8 1739.9 1475.3 1747.7 1475.6C1755.5 1475.9 1768.9 1475.3 1775.7 1476.5C1782.5 1477.7 1784.4 1481.5 1788.7 1483.0C1793.0 1484.5 1796.8 1485.9 1801.8 1485.8C1806.8 1485.7 1813.2 1483.4 1818.5 1482.3C1823.8 1481.2 1827.8 1478.8 1833.8 1479.2C1839.8 1479.6 1848.4 1483.7 1854.4 1484.9C1860.4 1486.1 1863.7 1484.8 1869.7 1486.2C1875.7 1487.6 1883.9 1492.5 1890.3 1493.1C1896.7 1493.6 1901.8 1489.2 1908.2 1489.5C1914.6 1489.8 1921.9 1494.3 1928.7 1494.6C1935.5 1494.9 1942.4 1491.0 1949.2 1491.3C1956.0 1491.6 1959.9 1494.9 1969.7 1496.4C1979.5 1497.9 1997.1 1499.8 2008.2 1500.3C2019.3 1500.8 2027.4 1499.6 2036.4 1499.7C2045.4 1499.8 2054.8 1499.9 2062.1 1500.8C2069.4 1501.7 2072.3 1504.8 2080.0 1504.9C2087.7 1505.0 2099.2 1501.1 2108.2 1501.5C2117.2 1501.9 2127.0 1507.1 2133.8 1507.4C2140.6 1507.7 2141.5 1504.0 2149.2 1503.3C2156.9 1502.6 2170.6 1502.4 2180.0 1503.3C2189.4 1504.2 2197.0 1507.3 2205.6 1508.5C2214.2 1509.7 2225.1 1509.7 2231.3 1510.5C2237.5 1511.3 2237.7 1513.9 2242.8 1513.1C2247.9 1512.3 2256.3 1506.8 2262.1 1505.9C2267.9 1505.0 2270.7 1507.8 2277.4 1507.9C2284.1 1508.0 2298.2 1506.9 2302.3 1506.7"/>
</g>
<g fill="#000">
<rect x="350.05" y="30.40" width="11.90" height="1587.50"/>
<rect x="337.10" y="1606.90" width="1973.80" height="11.00"/>
<rect x="317.80" y="136.45" width="38.20" height="11.50"/>
<rect x="317.80" y="556.53" width="38.20" height="11.50"/>
<rect x="317.80" y="976.61" width="38.20" height="11.50"/>
<rect x="317.80" y="1396.69" width="38.20" height="11.50"/>
<rect x="336.90" y="346.49" width="19.10" height="11.50"/>
<rect x="336.90" y="766.57" width="19.10" height="11.50"/>
<rect x="336.90" y="1186.65" width="19.10" height="11.50"/>
<rect x="443.05" y="1612.40" width="10.90" height="38.40"/>
<rect x="814.46" y="1612.40" width="10.90" height="38.40"/>
<rect x="1185.87" y="1612.40" width="10.90" height="38.40"/>
<rect x="1557.28" y="1612.40" width="10.90" height="38.40"/>
<rect x="1928.69" y="1612.40" width="10.90" height="38.40"/>
<rect x="2300.10" y="1612.40" width="10.90" height="38.40"/>
<rect x="628.75" y="1612.40" width="10.90" height="19.20"/>
<rect x="1000.16" y="1612.40" width="10.90" height="19.20"/>
<rect x="1371.58" y="1612.40" width="10.90" height="19.20"/>
<rect x="1742.99" y="1612.40" width="10.90" height="19.20"/>
<rect x="2114.40" y="1612.40" width="10.90" height="19.20"/>
</g>
<text transform="translate(293.00 162.80) scale(0.9500 1.0600)" font-size="66.20" text-anchor="end" letter-spacing="3.14">1.0</text>
<text transform="translate(293.00 582.88) scale(0.9500 1.0600)" font-size="66.20" text-anchor="end" letter-spacing="3.14">0.8</text>
<text transform="translate(293.00 1002.96) scale(0.9500 1.0600)" font-size="66.20" text-anchor="end" letter-spacing="3.14">0.6</text>
<text transform="translate(293.00 1423.04) scale(0.9500 1.0600)" font-size="66.20" text-anchor="end" letter-spacing="3.14">0.4</text>
<text transform="translate(450.20 1730.60) scale(0.9500 1.0600)" font-size="66.20" text-anchor="middle" letter-spacing="3.14">300</text>
<text transform="translate(821.61 1730.60) scale(0.9500 1.0600)" font-size="66.20" text-anchor="middle" letter-spacing="3.14">400</text>
<text transform="translate(1193.02 1730.60) scale(0.9500 1.0600)" font-size="66.20" text-anchor="middle" letter-spacing="3.14">500</text>
<text transform="translate(1564.43 1730.60) scale(0.9500 1.0600)" font-size="66.20" text-anchor="middle" letter-spacing="3.14">600</text>
<text transform="translate(1935.84 1730.60) scale(0.9500 1.0600)" font-size="66.20" text-anchor="middle" letter-spacing="3.14">700</text>
<text transform="translate(2307.25 1730.60) scale(0.9500 1.0600)" font-size="66.20" text-anchor="middle" letter-spacing="3.14">800</text>
<text transform="translate(1333.50 1855.90) scale(1.0400 1.0000)" font-size="77.00" text-anchor="middle" letter-spacing="1.20">Wavelength (nm)</text>
<text transform="translate(102.60 780.50) rotate(-90) scale(1.0400 1.0600)" font-size="77.00" text-anchor="middle" letter-spacing="1.20">Normalized Absorbance</text>
<line x1="1853.00" y1="68.40" x2="2018.30" y2="68.40" stroke="#000000" stroke-width="8.00" stroke-linecap="round"/>
<text transform="translate(2039.50 93.80) scale(0.9600 1.0400)" font-size="74.00" letter-spacing="1.54">0 <tspan class="mu" font-size="69.56" dx="1.00">µ</tspan><tspan dx="2.00">M</tspan></text>
<line x1="1853.00" y1="168.60" x2="2018.30" y2="168.60" stroke="#ff0000" stroke-width="8.00" stroke-linecap="round"/>
<text transform="translate(2039.50 194.00) scale(0.9600 1.0400)" font-size="74.00" letter-spacing="1.54">0.10 <tspan class="mu" font-size="69.56" dx="1.00">µ</tspan><tspan dx="2.00">M</tspan></text>
<line x1="1853.00" y1="260.20" x2="2018.30" y2="260.20" stroke="#ff00ff" stroke-width="8.00" stroke-linecap="round"/>
<text transform="translate(2039.50 285.60) scale(0.9600 1.0400)" font-size="74.00" letter-spacing="1.54">0.50 <tspan class="mu" font-size="69.56" dx="1.00">µ</tspan><tspan dx="2.00">M</tspan></text>
<line x1="1853.00" y1="351.70" x2="2018.30" y2="351.70" stroke="#8000ff" stroke-width="8.00" stroke-linecap="round"/>
<text transform="translate(2039.50 377.10) scale(0.9600 1.0400)" font-size="74.00" letter-spacing="1.54">4.76 <tspan class="mu" font-size="69.56" dx="1.00">µ</tspan><tspan dx="2.00">M</tspan></text>
<line x1="1853.00" y1="451.00" x2="2018.30" y2="451.00" stroke="#00ff00" stroke-width="8.00" stroke-linecap="round"/>
<text transform="translate(2039.50 476.40) scale(0.9600 1.0400)" font-size="74.00" letter-spacing="1.54">9.09 <tspan class="mu" font-size="69.56" dx="1.00">µ</tspan><tspan dx="2.00">M</tspan></text>
<line x1="1853.00" y1="550.40" x2="2018.30" y2="550.40" stroke="#ff8000" stroke-width="8.00" stroke-linecap="round"/>
<text transform="translate(2039.50 575.80) scale(0.9600 1.0400)" font-size="74.00" letter-spacing="1.54">13.04 <tspan class="mu" font-size="69.56" dx="1.00">µ</tspan><tspan dx="2.00">M</tspan></text>
<line x1="1853.00" y1="651.00" x2="2018.30" y2="651.00" stroke="#800000" stroke-width="8.00" stroke-linecap="round"/>
<text transform="translate(2039.50 676.40) scale(0.9600 1.0400)" font-size="74.00" letter-spacing="1.54">20.00 <tspan class="mu" font-size="69.56" dx="1.00">µ</tspan><tspan dx="2.00">M</tspan></text>
<line x1="1853.00" y1="751.00" x2="2018.30" y2="751.00" stroke="#000080" stroke-width="8.00" stroke-linecap="round"/>
<text transform="translate(2039.50 776.40) scale(0.9600 1.0400)" font-size="74.00" letter-spacing="1.54">23.08 <tspan class="mu" font-size="69.56" dx="1.00">µ</tspan><tspan dx="2.00">M</tspan></text>
<line x1="1853.00" y1="850.70" x2="2018.30" y2="850.70" stroke="#ff0080" stroke-width="8.00" stroke-linecap="round"/>
<text transform="translate(2039.50 876.10) scale(0.9600 1.0400)" font-size="74.00" letter-spacing="1.54">28.57 <tspan class="mu" font-size="69.56" dx="1.00">µ</tspan><tspan dx="2.00">M</tspan></text>
<line x1="1853.00" y1="950.70" x2="2018.30" y2="950.70" stroke="#808000" stroke-width="8.00" stroke-linecap="round"/>
<text transform="translate(2039.50 976.10) scale(0.9600 1.0400)" font-size="74.00" letter-spacing="1.54">33.33 <tspan class="mu" font-size="69.56" dx="1.00">µ</tspan><tspan dx="2.00">M</tspan></text>
<line x1="1502.50" y1="178.00" x2="1500.20" y2="630.00" stroke="#000" stroke-width="6.00"/>
<path d="M1488.30 621.50 L1511.70 621.50 L1499.60 665.00 Z" fill="#000" stroke="#000" stroke-width="1.5" stroke-linejoin="round"/>
<text transform="translate(1520.00 202.00) scale(0.9600 1.0400)" font-size="74.00">0</text>
<text transform="translate(1528.00 684.00) scale(0.9600 1.0400)" font-size="74.00" letter-spacing="1.54">33.33 <tspan class="mu" font-size="69.56" dx="1.00">µ</tspan><tspan dx="2.00">M</tspan></text>
</svg></body></html>
